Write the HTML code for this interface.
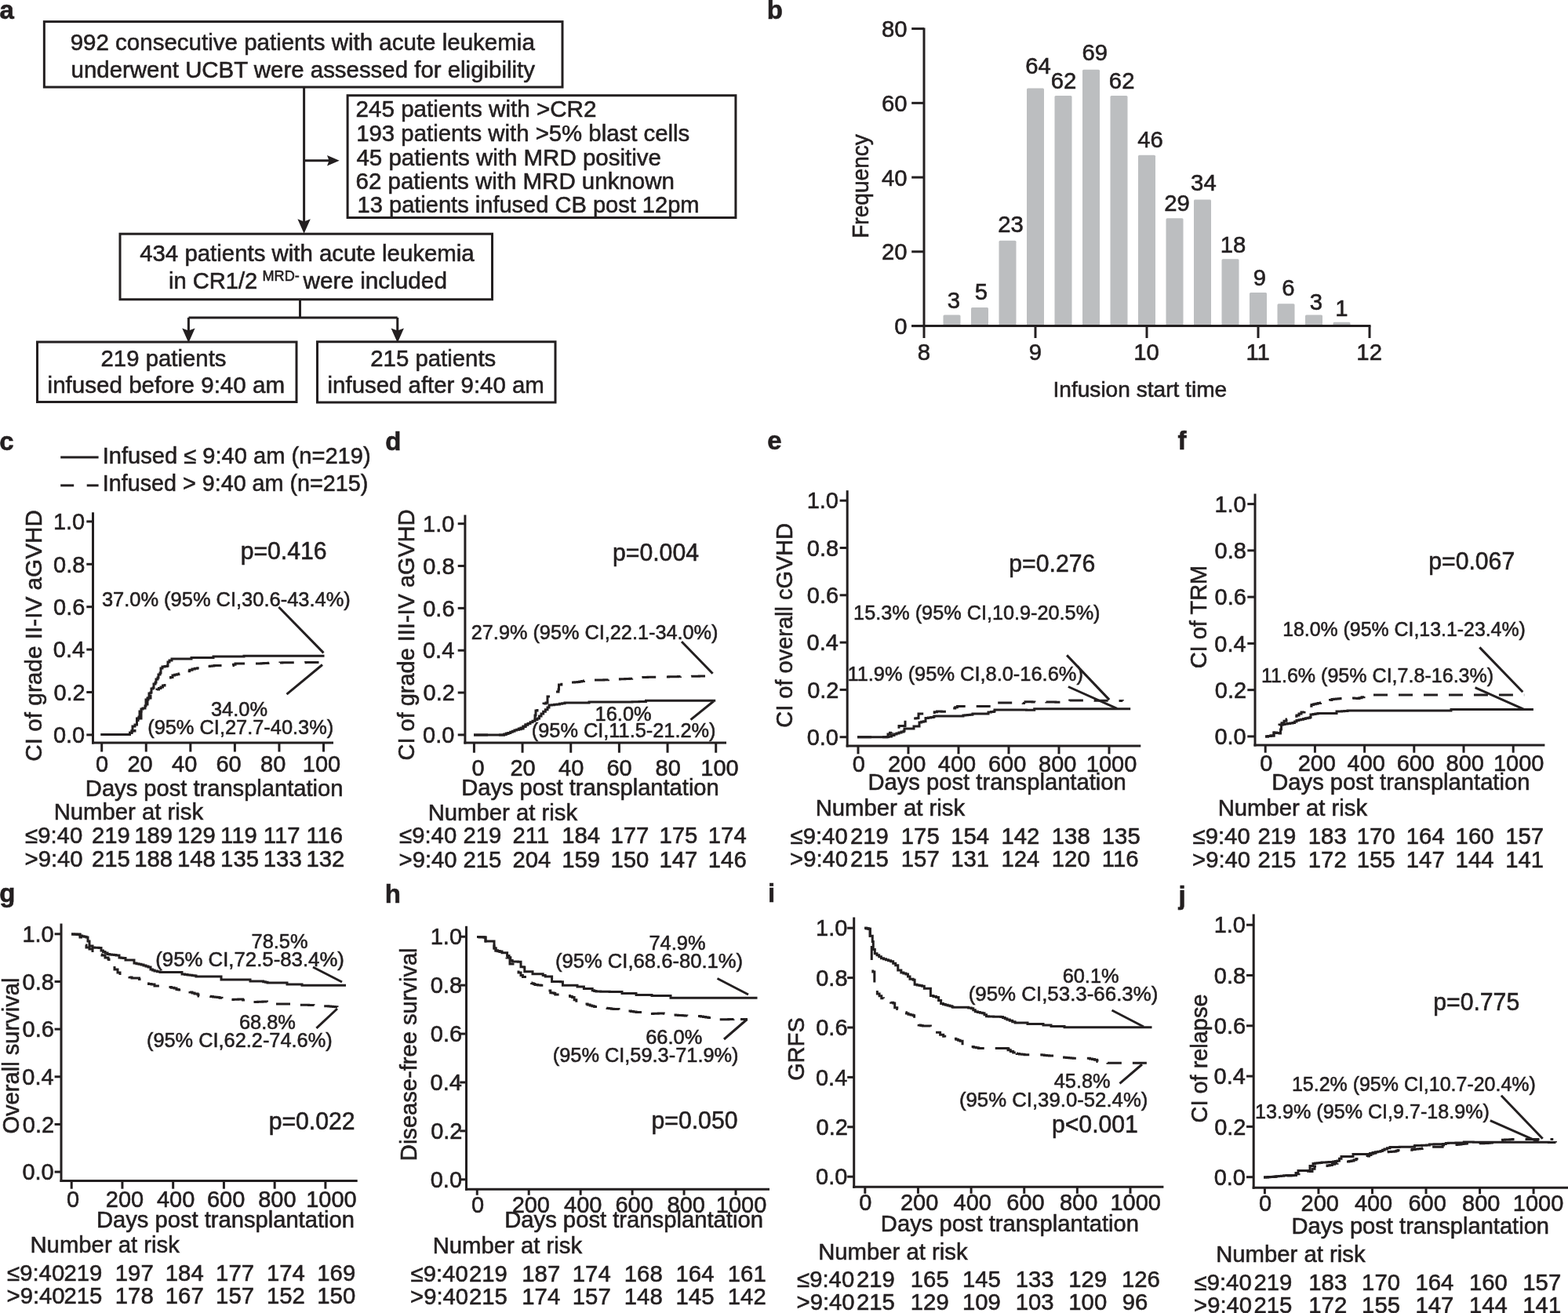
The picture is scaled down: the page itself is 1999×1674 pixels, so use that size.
<!DOCTYPE html>
<html><head><meta charset="utf-8"><style>
html,body{margin:0;padding:0;background:#fff;}
svg{display:block;}
text{stroke:#231f20;stroke-width:0.6px;font-family:"Liberation Sans",Arial,Helvetica,sans-serif;fill:#231f20;}
</style></head><body>
<svg width="1999" height="1674" viewBox="0 0 1999 1674">
<rect width="1999" height="1674" fill="#fff"/>
<g stroke="#231f20" fill="none">
<text transform="translate(-0.49,23.50) scale(0.9901,1)" font-size="33.33" font-weight="bold">a</text>
<text transform="translate(977.86,23.75) scale(0.9901,1)" font-size="33.33" font-weight="bold">b</text>
<text transform="translate(-0.82,573.60) scale(0.9901,1)" font-size="33.33" font-weight="bold">c</text>
<text transform="translate(491.18,573.60) scale(0.9901,1)" font-size="33.33" font-weight="bold">d</text>
<text transform="translate(978.18,573.30) scale(0.9901,1)" font-size="33.33" font-weight="bold">e</text>
<text transform="translate(1501.51,573.20) scale(0.9901,1)" font-size="33.33" font-weight="bold">f</text>
<text transform="translate(-0.82,1150.00) scale(0.9901,1)" font-size="33.33" font-weight="bold">g</text>
<text transform="translate(490.69,1150.50) scale(0.9901,1)" font-size="33.33" font-weight="bold">h</text>
<text transform="translate(978.99,1150.00) scale(0.9901,1)" font-size="33.33" font-weight="bold">i</text>
<text transform="translate(1502.49,1152.50) scale(0.9901,1)" font-size="33.33" font-weight="bold">j</text>
<rect x="56.35" y="27.60" width="660.65" height="83.45" fill="none" stroke-width="3"/>
<text transform="translate(89.67,63.75) scale(0.9901,1)" font-size="29.82">992 consecutive patients with acute leukemia</text>
<text transform="translate(90.59,98.75) scale(0.9901,1)" font-size="29.72">underwent UCBT were assessed for eligibility</text>
<line x1="387.60" y1="111.00" x2="387.60" y2="285.00" stroke-width="3" stroke-linecap="butt"/>
<path d="M379.40,279.20 L387.60,282.40 L395.80,279.20 L387.60,297.80 Z" fill="#231f20" stroke="none"/>
<line x1="387.60" y1="204.70" x2="420.00" y2="204.70" stroke-width="3" stroke-linecap="butt"/>
<path d="M417.00,197.90 L419.50,204.70 L417.00,211.50 L432.70,204.70 Z" fill="#231f20" stroke="none"/>
<rect x="443.10" y="121.70" width="494.80" height="155.80" fill="none" stroke-width="3"/>
<text transform="translate(453.52,148.80) scale(0.9901,1)" font-size="29.91">245 patients with &gt;CR2</text>
<text transform="translate(454.20,179.60) scale(0.9901,1)" font-size="29.65">193 patients with &gt;5% blast cells</text>
<text transform="translate(454.41,210.60) scale(0.9901,1)" font-size="29.80">45 patients with MRD positive</text>
<text transform="translate(453.53,241.40) scale(0.9901,1)" font-size="29.78">62 patients with MRD unknown</text>
<text transform="translate(455.62,271.20) scale(0.9901,1)" font-size="29.34">13 patients infused CB post 12pm</text>
<rect x="153.00" y="298.20" width="474.50" height="83.55" fill="none" stroke-width="3"/>
<text transform="translate(178.16,332.50) scale(0.9901,1)" font-size="29.71">434 patients with acute leukemia</text>
<text transform="translate(214.91,367.50) scale(0.9901,1)" font-size="29.43">in CR1/2</text>
<text transform="translate(334.55,357.80) scale(0.9901,1)" font-size="18.29">MRD-</text>
<text transform="translate(386.50,367.50) scale(0.9901,1)" font-size="30.03">were included</text>
<line x1="382.50" y1="381.75" x2="382.50" y2="405.00" stroke-width="3" stroke-linecap="butt"/>
<line x1="240.50" y1="405.00" x2="506.75" y2="405.00" stroke-width="3" stroke-linecap="butt"/>
<line x1="240.40" y1="405.00" x2="240.40" y2="422.00" stroke-width="3" stroke-linecap="butt"/>
<path d="M232.20,418.40 L240.40,421.60 L248.60,418.40 L240.40,437.00 Z" fill="#231f20" stroke="none"/>
<line x1="506.75" y1="405.00" x2="506.75" y2="422.00" stroke-width="3" stroke-linecap="butt"/>
<path d="M498.55,418.40 L506.75,421.60 L514.95,418.40 L506.75,437.00 Z" fill="#231f20" stroke="none"/>
<rect x="47.50" y="436.00" width="330.50" height="76.50" fill="none" stroke-width="3"/>
<text transform="translate(128.53,467.00) scale(0.9901,1)" font-size="29.65">219 patients</text>
<text transform="translate(60.58,501.00) scale(0.9901,1)" font-size="29.88">infused before 9:40 am</text>
<rect x="404.50" y="435.75" width="303.50" height="77.25" fill="none" stroke-width="3"/>
<text transform="translate(472.28,467.00) scale(0.9901,1)" font-size="29.65">215 patients</text>
<text transform="translate(417.59,501.00) scale(0.9901,1)" font-size="29.71">infused after 9:40 am</text>
<rect x="1202.50" y="401.39" width="22" height="14.21" rx="1.5" fill="#bcbec0" stroke="none"/>
<text transform="translate(1207.87,393.30) scale(0.9901,1)" font-size="29.59">3</text>
<rect x="1238.00" y="391.91" width="22" height="23.69" rx="1.5" fill="#bcbec0" stroke="none"/>
<text transform="translate(1242.67,381.70) scale(0.9901,1)" font-size="29.59">5</text>
<rect x="1273.50" y="306.64" width="22" height="108.96" rx="1.5" fill="#bcbec0" stroke="none"/>
<text transform="translate(1272.19,296.10) scale(0.9901,1)" font-size="29.59">23</text>
<rect x="1309.00" y="112.40" width="22" height="303.20" rx="1.5" fill="#bcbec0" stroke="none"/>
<text transform="translate(1307.25,94.10) scale(0.9901,1)" font-size="29.59">64</text>
<rect x="1344.50" y="121.88" width="22" height="293.72" rx="1.5" fill="#bcbec0" stroke="none"/>
<text transform="translate(1339.74,112.90) scale(0.9901,1)" font-size="29.59">62</text>
<rect x="1380.00" y="88.71" width="22" height="326.89" rx="1.5" fill="#bcbec0" stroke="none"/>
<text transform="translate(1379.57,77.30) scale(0.9901,1)" font-size="29.59">69</text>
<rect x="1415.50" y="121.88" width="22" height="293.72" rx="1.5" fill="#bcbec0" stroke="none"/>
<text transform="translate(1413.84,112.90) scale(0.9901,1)" font-size="29.59">62</text>
<rect x="1451.00" y="197.68" width="22" height="217.92" rx="1.5" fill="#bcbec0" stroke="none"/>
<text transform="translate(1450.33,187.70) scale(0.9901,1)" font-size="29.59">46</text>
<rect x="1486.50" y="278.21" width="22" height="137.39" rx="1.5" fill="#bcbec0" stroke="none"/>
<text transform="translate(1484.27,269.20) scale(0.9901,1)" font-size="29.59">29</text>
<rect x="1522.00" y="254.53" width="22" height="161.07" rx="1.5" fill="#bcbec0" stroke="none"/>
<text transform="translate(1518.09,242.70) scale(0.9901,1)" font-size="29.59">34</text>
<rect x="1557.50" y="330.33" width="22" height="85.27" rx="1.5" fill="#bcbec0" stroke="none"/>
<text transform="translate(1555.73,321.70) scale(0.9901,1)" font-size="29.59">18</text>
<rect x="1593.00" y="372.96" width="22" height="42.64" rx="1.5" fill="#bcbec0" stroke="none"/>
<text transform="translate(1597.87,363.70) scale(0.9901,1)" font-size="29.59">9</text>
<rect x="1628.50" y="387.18" width="22" height="28.43" rx="1.5" fill="#bcbec0" stroke="none"/>
<text transform="translate(1634.32,376.70) scale(0.9901,1)" font-size="29.59">6</text>
<rect x="1664.00" y="401.39" width="22" height="14.21" rx="1.5" fill="#bcbec0" stroke="none"/>
<text transform="translate(1669.87,394.70) scale(0.9901,1)" font-size="29.59">3</text>
<rect x="1699.50" y="410.86" width="22" height="4.74" rx="1.5" fill="#bcbec0" stroke="none"/>
<text transform="translate(1702.13,403.30) scale(0.9901,1)" font-size="29.59">1</text>
<line x1="1178.00" y1="35.50" x2="1178.00" y2="417.10" stroke-width="3" stroke-linecap="butt"/>
<line x1="1162.20" y1="415.60" x2="1178.00" y2="415.60" stroke-width="3" stroke-linecap="butt"/>
<text transform="translate(1140.26,426.10) scale(0.9901,1)" font-size="29.59">0</text>
<line x1="1162.20" y1="320.85" x2="1178.00" y2="320.85" stroke-width="3" stroke-linecap="butt"/>
<text transform="translate(1124.00,331.35) scale(0.9901,1)" font-size="29.59">20</text>
<line x1="1162.20" y1="226.10" x2="1178.00" y2="226.10" stroke-width="3" stroke-linecap="butt"/>
<text transform="translate(1124.00,236.60) scale(0.9901,1)" font-size="29.59">40</text>
<line x1="1162.20" y1="131.35" x2="1178.00" y2="131.35" stroke-width="3" stroke-linecap="butt"/>
<text transform="translate(1124.00,141.85) scale(0.9901,1)" font-size="29.59">60</text>
<line x1="1162.20" y1="36.60" x2="1178.00" y2="36.60" stroke-width="3" stroke-linecap="butt"/>
<text transform="translate(1124.00,47.10) scale(0.9901,1)" font-size="29.59">80</text>
<line x1="1162.20" y1="415.60" x2="1747.50" y2="415.60" stroke-width="3" stroke-linecap="butt"/>
<line x1="1178.00" y1="415.60" x2="1178.00" y2="431.00" stroke-width="3" stroke-linecap="butt"/>
<text transform="translate(1169.80,459.00) scale(0.9901,1)" font-size="29.59">8</text>
<line x1="1320.00" y1="415.60" x2="1320.00" y2="431.00" stroke-width="3" stroke-linecap="butt"/>
<text transform="translate(1311.87,459.00) scale(0.9901,1)" font-size="29.59">9</text>
<line x1="1462.00" y1="415.60" x2="1462.00" y2="431.00" stroke-width="3" stroke-linecap="butt"/>
<text transform="translate(1445.15,459.00) scale(0.9901,1)" font-size="29.59">10</text>
<line x1="1604.00" y1="415.60" x2="1604.00" y2="431.00" stroke-width="3" stroke-linecap="butt"/>
<text transform="translate(1588.40,459.00) scale(0.9901,1)" font-size="29.59">11</text>
<line x1="1746.00" y1="415.60" x2="1746.00" y2="431.00" stroke-width="3" stroke-linecap="butt"/>
<text transform="translate(1729.37,459.00) scale(0.9901,1)" font-size="29.59">12</text>
<text transform="translate(1342.47,506.00) scale(0.9901,1)" font-size="28.39">Infusion start time</text>
<text transform="translate(1106.90,303.85) rotate(-90) scale(0.9249,1)" x="0" y="0" font-size="30.40">Frequency</text>
<line x1="118.50" y1="653.30" x2="118.50" y2="948.50" stroke-width="3" stroke-linecap="butt"/>
<line x1="117.00" y1="947.00" x2="425.00" y2="947.00" stroke-width="3" stroke-linecap="butt"/>
<line x1="110.30" y1="936.90" x2="118.50" y2="936.90" stroke-width="3" stroke-linecap="butt"/>
<text transform="translate(67.95,947.10) scale(0.9901,1)" font-size="29.29">0.0</text>
<line x1="110.30" y1="882.50" x2="118.50" y2="882.50" stroke-width="3" stroke-linecap="butt"/>
<text transform="translate(68.39,892.70) scale(0.9901,1)" font-size="29.29">0.2</text>
<line x1="110.30" y1="828.10" x2="118.50" y2="828.10" stroke-width="3" stroke-linecap="butt"/>
<text transform="translate(67.81,838.30) scale(0.9901,1)" font-size="29.29">0.4</text>
<line x1="110.30" y1="773.70" x2="118.50" y2="773.70" stroke-width="3" stroke-linecap="butt"/>
<text transform="translate(68.10,783.90) scale(0.9901,1)" font-size="29.29">0.6</text>
<line x1="110.30" y1="719.30" x2="118.50" y2="719.30" stroke-width="3" stroke-linecap="butt"/>
<text transform="translate(68.10,729.50) scale(0.9901,1)" font-size="29.29">0.8</text>
<line x1="110.30" y1="664.90" x2="118.50" y2="664.90" stroke-width="3" stroke-linecap="butt"/>
<text transform="translate(67.95,675.10) scale(0.9901,1)" font-size="29.29">1.0</text>
<line x1="129.70" y1="947.00" x2="129.70" y2="958.50" stroke-width="3" stroke-linecap="butt"/>
<text transform="translate(121.88,984.00) scale(0.9901,1)" font-size="29.29">0</text>
<line x1="186.26" y1="947.00" x2="186.26" y2="958.50" stroke-width="3" stroke-linecap="butt"/>
<text transform="translate(162.49,984.00) scale(0.9901,1)" font-size="29.29">20</text>
<line x1="242.82" y1="947.00" x2="242.82" y2="958.50" stroke-width="3" stroke-linecap="butt"/>
<text transform="translate(219.12,984.00) scale(0.9901,1)" font-size="29.29">40</text>
<line x1="299.38" y1="947.00" x2="299.38" y2="958.50" stroke-width="3" stroke-linecap="butt"/>
<text transform="translate(275.39,984.00) scale(0.9901,1)" font-size="29.29">60</text>
<line x1="355.94" y1="947.00" x2="355.94" y2="958.50" stroke-width="3" stroke-linecap="butt"/>
<text transform="translate(332.06,984.00) scale(0.9901,1)" font-size="29.29">80</text>
<line x1="412.50" y1="947.00" x2="412.50" y2="958.50" stroke-width="3" stroke-linecap="butt"/>
<text transform="translate(385.78,984.00) scale(0.9901,1)" font-size="29.29">100</text>
<line x1="592.90" y1="656.50" x2="592.90" y2="948.50" stroke-width="3" stroke-linecap="butt"/>
<line x1="591.40" y1="947.00" x2="926.00" y2="947.00" stroke-width="3" stroke-linecap="butt"/>
<line x1="583.70" y1="936.90" x2="592.90" y2="936.90" stroke-width="3" stroke-linecap="butt"/>
<text transform="translate(539.11,947.10) scale(0.9901,1)" font-size="29.29">0.0</text>
<line x1="583.70" y1="883.06" x2="592.90" y2="883.06" stroke-width="3" stroke-linecap="butt"/>
<text transform="translate(539.54,893.26) scale(0.9901,1)" font-size="29.29">0.2</text>
<line x1="583.70" y1="829.22" x2="592.90" y2="829.22" stroke-width="3" stroke-linecap="butt"/>
<text transform="translate(538.96,839.42) scale(0.9901,1)" font-size="29.29">0.4</text>
<line x1="583.70" y1="775.38" x2="592.90" y2="775.38" stroke-width="3" stroke-linecap="butt"/>
<text transform="translate(539.25,785.58) scale(0.9901,1)" font-size="29.29">0.6</text>
<line x1="583.70" y1="721.54" x2="592.90" y2="721.54" stroke-width="3" stroke-linecap="butt"/>
<text transform="translate(539.25,731.74) scale(0.9901,1)" font-size="29.29">0.8</text>
<line x1="583.70" y1="667.70" x2="592.90" y2="667.70" stroke-width="3" stroke-linecap="butt"/>
<text transform="translate(539.11,677.90) scale(0.9901,1)" font-size="29.29">1.0</text>
<line x1="604.40" y1="947.00" x2="604.40" y2="959.70" stroke-width="3" stroke-linecap="butt"/>
<text transform="translate(601.38,989.20) scale(0.9901,1)" font-size="29.29">0</text>
<line x1="666.06" y1="947.00" x2="666.06" y2="959.70" stroke-width="3" stroke-linecap="butt"/>
<text transform="translate(650.49,989.20) scale(0.9901,1)" font-size="29.29">20</text>
<line x1="727.72" y1="947.00" x2="727.72" y2="959.70" stroke-width="3" stroke-linecap="butt"/>
<text transform="translate(712.12,989.20) scale(0.9901,1)" font-size="29.29">40</text>
<line x1="789.38" y1="947.00" x2="789.38" y2="959.70" stroke-width="3" stroke-linecap="butt"/>
<text transform="translate(773.39,989.20) scale(0.9901,1)" font-size="29.29">60</text>
<line x1="851.04" y1="947.00" x2="851.04" y2="959.70" stroke-width="3" stroke-linecap="butt"/>
<text transform="translate(835.56,989.20) scale(0.9901,1)" font-size="29.29">80</text>
<line x1="912.70" y1="947.00" x2="912.70" y2="959.70" stroke-width="3" stroke-linecap="butt"/>
<text transform="translate(893.28,989.20) scale(0.9901,1)" font-size="29.29">100</text>
<line x1="1080.20" y1="625.30" x2="1080.20" y2="952.40" stroke-width="3" stroke-linecap="butt"/>
<line x1="1078.70" y1="950.90" x2="1454.30" y2="950.90" stroke-width="3" stroke-linecap="butt"/>
<line x1="1070.60" y1="939.70" x2="1080.20" y2="939.70" stroke-width="3" stroke-linecap="butt"/>
<text transform="translate(1028.70,949.90) scale(0.9901,1)" font-size="29.29">0.0</text>
<line x1="1070.60" y1="879.40" x2="1080.20" y2="879.40" stroke-width="3" stroke-linecap="butt"/>
<text transform="translate(1029.14,889.60) scale(0.9901,1)" font-size="29.29">0.2</text>
<line x1="1070.60" y1="819.10" x2="1080.20" y2="819.10" stroke-width="3" stroke-linecap="butt"/>
<text transform="translate(1028.56,829.30) scale(0.9901,1)" font-size="29.29">0.4</text>
<line x1="1070.60" y1="758.80" x2="1080.20" y2="758.80" stroke-width="3" stroke-linecap="butt"/>
<text transform="translate(1028.85,769.00) scale(0.9901,1)" font-size="29.29">0.6</text>
<line x1="1070.60" y1="698.50" x2="1080.20" y2="698.50" stroke-width="3" stroke-linecap="butt"/>
<text transform="translate(1028.85,708.70) scale(0.9901,1)" font-size="29.29">0.8</text>
<line x1="1070.60" y1="638.20" x2="1080.20" y2="638.20" stroke-width="3" stroke-linecap="butt"/>
<text transform="translate(1028.70,648.40) scale(0.9901,1)" font-size="29.29">1.0</text>
<line x1="1094.00" y1="950.90" x2="1094.00" y2="961.30" stroke-width="3" stroke-linecap="butt"/>
<text transform="translate(1086.68,984.20) scale(0.9901,1)" font-size="29.29">0</text>
<line x1="1158.00" y1="950.90" x2="1158.00" y2="961.30" stroke-width="3" stroke-linecap="butt"/>
<text transform="translate(1131.94,984.20) scale(0.9901,1)" font-size="29.29">200</text>
<line x1="1222.00" y1="950.90" x2="1222.00" y2="961.30" stroke-width="3" stroke-linecap="butt"/>
<text transform="translate(1195.78,984.20) scale(0.9901,1)" font-size="29.29">400</text>
<line x1="1286.00" y1="950.90" x2="1286.00" y2="961.30" stroke-width="3" stroke-linecap="butt"/>
<text transform="translate(1259.94,984.20) scale(0.9901,1)" font-size="29.29">600</text>
<line x1="1350.00" y1="950.90" x2="1350.00" y2="961.30" stroke-width="3" stroke-linecap="butt"/>
<text transform="translate(1324.01,984.20) scale(0.9901,1)" font-size="29.29">800</text>
<line x1="1414.00" y1="950.90" x2="1414.00" y2="961.30" stroke-width="3" stroke-linecap="butt"/>
<text transform="translate(1384.86,984.20) scale(0.9901,1)" font-size="29.29">1000</text>
<line x1="1600.00" y1="629.60" x2="1600.00" y2="951.50" stroke-width="3" stroke-linecap="butt"/>
<line x1="1598.50" y1="950.00" x2="1969.40" y2="950.00" stroke-width="3" stroke-linecap="butt"/>
<line x1="1590.30" y1="938.90" x2="1600.00" y2="938.90" stroke-width="3" stroke-linecap="butt"/>
<text transform="translate(1548.40,949.10) scale(0.9901,1)" font-size="29.29">0.0</text>
<line x1="1590.30" y1="879.64" x2="1600.00" y2="879.64" stroke-width="3" stroke-linecap="butt"/>
<text transform="translate(1548.84,889.84) scale(0.9901,1)" font-size="29.29">0.2</text>
<line x1="1590.30" y1="820.38" x2="1600.00" y2="820.38" stroke-width="3" stroke-linecap="butt"/>
<text transform="translate(1548.26,830.58) scale(0.9901,1)" font-size="29.29">0.4</text>
<line x1="1590.30" y1="761.12" x2="1600.00" y2="761.12" stroke-width="3" stroke-linecap="butt"/>
<text transform="translate(1548.55,771.32) scale(0.9901,1)" font-size="29.29">0.6</text>
<line x1="1590.30" y1="701.86" x2="1600.00" y2="701.86" stroke-width="3" stroke-linecap="butt"/>
<text transform="translate(1548.55,712.06) scale(0.9901,1)" font-size="29.29">0.8</text>
<line x1="1590.30" y1="642.60" x2="1600.00" y2="642.60" stroke-width="3" stroke-linecap="butt"/>
<text transform="translate(1548.40,652.80) scale(0.9901,1)" font-size="29.29">1.0</text>
<line x1="1613.20" y1="950.00" x2="1613.20" y2="959.70" stroke-width="3" stroke-linecap="butt"/>
<text transform="translate(1606.18,983.40) scale(0.9901,1)" font-size="29.29">0</text>
<line x1="1676.40" y1="950.00" x2="1676.40" y2="959.70" stroke-width="3" stroke-linecap="butt"/>
<text transform="translate(1654.64,983.40) scale(0.9901,1)" font-size="29.29">200</text>
<line x1="1739.60" y1="950.00" x2="1739.60" y2="959.70" stroke-width="3" stroke-linecap="butt"/>
<text transform="translate(1717.58,983.40) scale(0.9901,1)" font-size="29.29">400</text>
<line x1="1802.80" y1="950.00" x2="1802.80" y2="959.70" stroke-width="3" stroke-linecap="butt"/>
<text transform="translate(1780.64,983.40) scale(0.9901,1)" font-size="29.29">600</text>
<line x1="1866.00" y1="950.00" x2="1866.00" y2="959.70" stroke-width="3" stroke-linecap="butt"/>
<text transform="translate(1843.61,983.40) scale(0.9901,1)" font-size="29.29">800</text>
<line x1="1929.20" y1="950.00" x2="1929.20" y2="959.70" stroke-width="3" stroke-linecap="butt"/>
<text transform="translate(1903.96,983.40) scale(0.9901,1)" font-size="29.29">1000</text>
<line x1="78.00" y1="1177.60" x2="78.00" y2="1507.10" stroke-width="3" stroke-linecap="butt"/>
<line x1="76.50" y1="1505.60" x2="455.70" y2="1505.60" stroke-width="3" stroke-linecap="butt"/>
<line x1="69.60" y1="1494.10" x2="78.00" y2="1494.10" stroke-width="3" stroke-linecap="butt"/>
<text transform="translate(28.41,1504.30) scale(0.9901,1)" font-size="29.29">0.0</text>
<line x1="69.60" y1="1433.44" x2="78.00" y2="1433.44" stroke-width="3" stroke-linecap="butt"/>
<text transform="translate(28.84,1443.64) scale(0.9901,1)" font-size="29.29">0.2</text>
<line x1="69.60" y1="1372.78" x2="78.00" y2="1372.78" stroke-width="3" stroke-linecap="butt"/>
<text transform="translate(28.26,1382.98) scale(0.9901,1)" font-size="29.29">0.4</text>
<line x1="69.60" y1="1312.12" x2="78.00" y2="1312.12" stroke-width="3" stroke-linecap="butt"/>
<text transform="translate(28.55,1322.32) scale(0.9901,1)" font-size="29.29">0.6</text>
<line x1="69.60" y1="1251.46" x2="78.00" y2="1251.46" stroke-width="3" stroke-linecap="butt"/>
<text transform="translate(28.55,1261.66) scale(0.9901,1)" font-size="29.29">0.8</text>
<line x1="69.60" y1="1190.80" x2="78.00" y2="1190.80" stroke-width="3" stroke-linecap="butt"/>
<text transform="translate(28.41,1201.00) scale(0.9901,1)" font-size="29.29">1.0</text>
<line x1="91.20" y1="1505.60" x2="91.20" y2="1515.70" stroke-width="3" stroke-linecap="butt"/>
<text transform="translate(84.88,1539.20) scale(0.9901,1)" font-size="29.29">0</text>
<line x1="155.94" y1="1505.60" x2="155.94" y2="1515.70" stroke-width="3" stroke-linecap="butt"/>
<text transform="translate(134.84,1539.20) scale(0.9901,1)" font-size="29.29">200</text>
<line x1="220.68" y1="1505.60" x2="220.68" y2="1515.70" stroke-width="3" stroke-linecap="butt"/>
<text transform="translate(199.98,1539.20) scale(0.9901,1)" font-size="29.29">400</text>
<line x1="285.42" y1="1505.60" x2="285.42" y2="1515.70" stroke-width="3" stroke-linecap="butt"/>
<text transform="translate(263.94,1539.20) scale(0.9901,1)" font-size="29.29">600</text>
<line x1="350.16" y1="1505.60" x2="350.16" y2="1515.70" stroke-width="3" stroke-linecap="butt"/>
<text transform="translate(329.21,1539.20) scale(0.9901,1)" font-size="29.29">800</text>
<line x1="414.90" y1="1505.60" x2="414.90" y2="1515.70" stroke-width="3" stroke-linecap="butt"/>
<text transform="translate(390.16,1539.20) scale(0.9901,1)" font-size="29.29">1000</text>
<line x1="594.50" y1="1180.75" x2="594.50" y2="1517.75" stroke-width="3" stroke-linecap="butt"/>
<line x1="593.00" y1="1516.25" x2="981.00" y2="1516.25" stroke-width="3" stroke-linecap="butt"/>
<line x1="586.25" y1="1503.80" x2="594.50" y2="1503.80" stroke-width="3" stroke-linecap="butt"/>
<text transform="translate(548.71,1514.00) scale(0.9901,1)" font-size="29.29">0.0</text>
<line x1="586.25" y1="1441.88" x2="594.50" y2="1441.88" stroke-width="3" stroke-linecap="butt"/>
<text transform="translate(549.14,1452.08) scale(0.9901,1)" font-size="29.29">0.2</text>
<line x1="586.25" y1="1379.96" x2="594.50" y2="1379.96" stroke-width="3" stroke-linecap="butt"/>
<text transform="translate(548.56,1390.16) scale(0.9901,1)" font-size="29.29">0.4</text>
<line x1="586.25" y1="1318.04" x2="594.50" y2="1318.04" stroke-width="3" stroke-linecap="butt"/>
<text transform="translate(548.85,1328.24) scale(0.9901,1)" font-size="29.29">0.6</text>
<line x1="586.25" y1="1256.12" x2="594.50" y2="1256.12" stroke-width="3" stroke-linecap="butt"/>
<text transform="translate(548.85,1266.32) scale(0.9901,1)" font-size="29.29">0.8</text>
<line x1="586.25" y1="1194.20" x2="594.50" y2="1194.20" stroke-width="3" stroke-linecap="butt"/>
<text transform="translate(548.71,1204.40) scale(0.9901,1)" font-size="29.29">1.0</text>
<line x1="608.25" y1="1516.25" x2="608.25" y2="1523.75" stroke-width="3" stroke-linecap="butt"/>
<text transform="translate(601.08,1545.80) scale(0.9901,1)" font-size="29.29">0</text>
<line x1="674.20" y1="1516.25" x2="674.20" y2="1523.75" stroke-width="3" stroke-linecap="butt"/>
<text transform="translate(652.64,1545.80) scale(0.9901,1)" font-size="29.29">200</text>
<line x1="740.15" y1="1516.25" x2="740.15" y2="1523.75" stroke-width="3" stroke-linecap="butt"/>
<text transform="translate(719.08,1545.80) scale(0.9901,1)" font-size="29.29">400</text>
<line x1="806.10" y1="1516.25" x2="806.10" y2="1523.75" stroke-width="3" stroke-linecap="butt"/>
<text transform="translate(784.44,1545.80) scale(0.9901,1)" font-size="29.29">600</text>
<line x1="872.05" y1="1516.25" x2="872.05" y2="1523.75" stroke-width="3" stroke-linecap="butt"/>
<text transform="translate(850.51,1545.80) scale(0.9901,1)" font-size="29.29">800</text>
<line x1="938.00" y1="1516.25" x2="938.00" y2="1523.75" stroke-width="3" stroke-linecap="butt"/>
<text transform="translate(912.86,1545.80) scale(0.9901,1)" font-size="29.29">1000</text>
<line x1="1088.70" y1="1169.40" x2="1088.70" y2="1514.70" stroke-width="3" stroke-linecap="butt"/>
<line x1="1087.20" y1="1513.20" x2="1483.40" y2="1513.20" stroke-width="3" stroke-linecap="butt"/>
<line x1="1080.20" y1="1500.20" x2="1088.70" y2="1500.20" stroke-width="3" stroke-linecap="butt"/>
<text transform="translate(1040.11,1510.40) scale(0.9901,1)" font-size="29.29">0.0</text>
<line x1="1080.20" y1="1436.80" x2="1088.70" y2="1436.80" stroke-width="3" stroke-linecap="butt"/>
<text transform="translate(1040.54,1447.00) scale(0.9901,1)" font-size="29.29">0.2</text>
<line x1="1080.20" y1="1373.40" x2="1088.70" y2="1373.40" stroke-width="3" stroke-linecap="butt"/>
<text transform="translate(1039.96,1383.60) scale(0.9901,1)" font-size="29.29">0.4</text>
<line x1="1080.20" y1="1310.00" x2="1088.70" y2="1310.00" stroke-width="3" stroke-linecap="butt"/>
<text transform="translate(1040.25,1320.20) scale(0.9901,1)" font-size="29.29">0.6</text>
<line x1="1080.20" y1="1246.60" x2="1088.70" y2="1246.60" stroke-width="3" stroke-linecap="butt"/>
<text transform="translate(1040.25,1256.80) scale(0.9901,1)" font-size="29.29">0.8</text>
<line x1="1080.20" y1="1183.20" x2="1088.70" y2="1183.20" stroke-width="3" stroke-linecap="butt"/>
<text transform="translate(1040.11,1193.40) scale(0.9901,1)" font-size="29.29">1.0</text>
<line x1="1102.80" y1="1513.20" x2="1102.80" y2="1521.80" stroke-width="3" stroke-linecap="butt"/>
<text transform="translate(1095.28,1543.40) scale(0.9901,1)" font-size="29.29">0</text>
<line x1="1170.44" y1="1513.20" x2="1170.44" y2="1521.80" stroke-width="3" stroke-linecap="butt"/>
<text transform="translate(1147.94,1543.40) scale(0.9901,1)" font-size="29.29">200</text>
<line x1="1238.08" y1="1513.20" x2="1238.08" y2="1521.80" stroke-width="3" stroke-linecap="butt"/>
<text transform="translate(1215.58,1543.40) scale(0.9901,1)" font-size="29.29">400</text>
<line x1="1305.72" y1="1513.20" x2="1305.72" y2="1521.80" stroke-width="3" stroke-linecap="butt"/>
<text transform="translate(1283.34,1543.40) scale(0.9901,1)" font-size="29.29">600</text>
<line x1="1373.36" y1="1513.20" x2="1373.36" y2="1521.80" stroke-width="3" stroke-linecap="butt"/>
<text transform="translate(1350.91,1543.40) scale(0.9901,1)" font-size="29.29">800</text>
<line x1="1441.00" y1="1513.20" x2="1441.00" y2="1521.80" stroke-width="3" stroke-linecap="butt"/>
<text transform="translate(1415.46,1543.40) scale(0.9901,1)" font-size="29.29">1000</text>
<line x1="1598.20" y1="1165.40" x2="1598.20" y2="1515.80" stroke-width="3" stroke-linecap="butt"/>
<line x1="1596.70" y1="1514.30" x2="1999.00" y2="1514.30" stroke-width="3" stroke-linecap="butt"/>
<line x1="1589.00" y1="1500.70" x2="1598.20" y2="1500.70" stroke-width="3" stroke-linecap="butt"/>
<text transform="translate(1547.70,1510.90) scale(0.9901,1)" font-size="29.29">0.0</text>
<line x1="1589.00" y1="1436.40" x2="1598.20" y2="1436.40" stroke-width="3" stroke-linecap="butt"/>
<text transform="translate(1548.14,1446.60) scale(0.9901,1)" font-size="29.29">0.2</text>
<line x1="1589.00" y1="1372.10" x2="1598.20" y2="1372.10" stroke-width="3" stroke-linecap="butt"/>
<text transform="translate(1547.56,1382.30) scale(0.9901,1)" font-size="29.29">0.4</text>
<line x1="1589.00" y1="1307.80" x2="1598.20" y2="1307.80" stroke-width="3" stroke-linecap="butt"/>
<text transform="translate(1547.85,1318.00) scale(0.9901,1)" font-size="29.29">0.6</text>
<line x1="1589.00" y1="1243.50" x2="1598.20" y2="1243.50" stroke-width="3" stroke-linecap="butt"/>
<text transform="translate(1547.85,1253.70) scale(0.9901,1)" font-size="29.29">0.8</text>
<line x1="1589.00" y1="1179.20" x2="1598.20" y2="1179.20" stroke-width="3" stroke-linecap="butt"/>
<text transform="translate(1547.70,1189.40) scale(0.9901,1)" font-size="29.29">1.0</text>
<line x1="1612.40" y1="1514.30" x2="1612.40" y2="1522.30" stroke-width="3" stroke-linecap="butt"/>
<text transform="translate(1604.98,1544.40) scale(0.9901,1)" font-size="29.29">0</text>
<line x1="1680.94" y1="1514.30" x2="1680.94" y2="1522.30" stroke-width="3" stroke-linecap="butt"/>
<text transform="translate(1658.54,1544.40) scale(0.9901,1)" font-size="29.29">200</text>
<line x1="1749.48" y1="1514.30" x2="1749.48" y2="1522.30" stroke-width="3" stroke-linecap="butt"/>
<text transform="translate(1726.88,1544.40) scale(0.9901,1)" font-size="29.29">400</text>
<line x1="1818.02" y1="1514.30" x2="1818.02" y2="1522.30" stroke-width="3" stroke-linecap="butt"/>
<text transform="translate(1795.44,1544.40) scale(0.9901,1)" font-size="29.29">600</text>
<line x1="1886.56" y1="1514.30" x2="1886.56" y2="1522.30" stroke-width="3" stroke-linecap="butt"/>
<text transform="translate(1864.11,1544.40) scale(0.9901,1)" font-size="29.29">800</text>
<line x1="1955.10" y1="1514.30" x2="1955.10" y2="1522.30" stroke-width="3" stroke-linecap="butt"/>
<text transform="translate(1928.86,1544.40) scale(0.9901,1)" font-size="29.29">1000</text>
<text transform="translate(52.50,970.79) rotate(-90) scale(0.9793,1)" x="0" y="0" font-size="30.40">CI of grade II-IV aGVHD</text>
<text transform="translate(528.00,969.45) rotate(-90) scale(0.9525,1)" x="0" y="0" font-size="30.40">CI of grade III-IV aGVHD</text>
<text transform="translate(1009.90,927.65) rotate(-90) scale(0.9534,1)" x="0" y="0" font-size="30.40">CI of overall cGVHD</text>
<text transform="translate(1538.20,852.35) rotate(-90) scale(0.9544,1)" x="0" y="0" font-size="30.40">CI of TRM</text>
<text transform="translate(23.90,1445.61) rotate(-90) scale(0.9582,1)" x="0" y="0" font-size="30.40">Overall survival</text>
<text transform="translate(530.60,1480.13) rotate(-90) scale(0.9578,1)" x="0" y="0" font-size="30.40">Disease-free survival</text>
<text transform="translate(1025.10,1377.65) rotate(-90) scale(0.9525,1)" x="0" y="0" font-size="30.40">GRFS</text>
<text transform="translate(1538.70,1431.45) rotate(-90) scale(0.9517,1)" x="0" y="0" font-size="30.40">CI of relapse</text>
<text transform="translate(108.87,1015.00) scale(0.9901,1)" font-size="29.43">Days post transplantation</text>
<text transform="translate(588.17,1014.00) scale(0.9901,1)" font-size="29.42">Days post transplantation</text>
<text transform="translate(1106.46,1006.80) scale(0.9901,1)" font-size="29.48">Days post transplantation</text>
<text transform="translate(1621.27,1007.20) scale(0.9901,1)" font-size="29.47">Days post transplantation</text>
<text transform="translate(122.97,1564.90) scale(0.9901,1)" font-size="29.46">Days post transplantation</text>
<text transform="translate(643.16,1565.00) scale(0.9901,1)" font-size="29.53">Days post transplantation</text>
<text transform="translate(1122.87,1569.90) scale(0.9901,1)" font-size="29.47">Days post transplantation</text>
<text transform="translate(1646.47,1573.40) scale(0.9901,1)" font-size="29.42">Days post transplantation</text>
<text transform="translate(68.66,1045.00) scale(0.9901,1)" font-size="29.59">Number at risk</text>
<text transform="translate(32.12,1074.50) scale(0.9901,1)" font-size="29.59">≤9:40</text>
<text transform="translate(31.54,1105.00) scale(0.9901,1)" font-size="29.59">&gt;9:40</text>
<text transform="translate(117.03,1074.50) scale(0.9901,1)" font-size="29.59">219</text>
<text transform="translate(117.03,1105.00) scale(0.9901,1)" font-size="29.59">215</text>
<text transform="translate(171.20,1074.50) scale(0.9901,1)" font-size="29.59">189</text>
<text transform="translate(171.20,1105.00) scale(0.9901,1)" font-size="29.59">188</text>
<text transform="translate(225.90,1074.50) scale(0.9901,1)" font-size="29.59">129</text>
<text transform="translate(225.90,1105.00) scale(0.9901,1)" font-size="29.59">148</text>
<text transform="translate(281.10,1074.50) scale(0.9901,1)" font-size="29.59">119</text>
<text transform="translate(281.10,1105.00) scale(0.9901,1)" font-size="29.59">135</text>
<text transform="translate(335.80,1074.50) scale(0.9901,1)" font-size="29.59">117</text>
<text transform="translate(335.80,1105.00) scale(0.9901,1)" font-size="29.59">133</text>
<text transform="translate(390.40,1074.50) scale(0.9901,1)" font-size="29.59">116</text>
<text transform="translate(390.40,1105.00) scale(0.9901,1)" font-size="29.59">132</text>
<text transform="translate(545.66,1046.00) scale(0.9901,1)" font-size="29.59">Number at risk</text>
<text transform="translate(509.12,1075.00) scale(0.9901,1)" font-size="29.59">≤9:40</text>
<text transform="translate(508.54,1105.50) scale(0.9901,1)" font-size="29.59">&gt;9:40</text>
<text transform="translate(590.53,1075.00) scale(0.9901,1)" font-size="29.59">219</text>
<text transform="translate(590.53,1105.50) scale(0.9901,1)" font-size="29.59">215</text>
<text transform="translate(653.53,1075.00) scale(0.9901,1)" font-size="29.59">211</text>
<text transform="translate(653.53,1105.50) scale(0.9901,1)" font-size="29.59">204</text>
<text transform="translate(716.20,1075.00) scale(0.9901,1)" font-size="29.59">184</text>
<text transform="translate(716.20,1105.50) scale(0.9901,1)" font-size="29.59">159</text>
<text transform="translate(778.40,1075.00) scale(0.9901,1)" font-size="29.59">177</text>
<text transform="translate(778.40,1105.50) scale(0.9901,1)" font-size="29.59">150</text>
<text transform="translate(840.40,1075.00) scale(0.9901,1)" font-size="29.59">175</text>
<text transform="translate(840.40,1105.50) scale(0.9901,1)" font-size="29.59">147</text>
<text transform="translate(902.80,1075.00) scale(0.9901,1)" font-size="29.59">174</text>
<text transform="translate(902.80,1105.50) scale(0.9901,1)" font-size="29.59">146</text>
<text transform="translate(1039.66,1040.00) scale(0.9901,1)" font-size="29.59">Number at risk</text>
<text transform="translate(1007.62,1076.00) scale(0.9901,1)" font-size="29.59">≤9:40</text>
<text transform="translate(1007.03,1105.30) scale(0.9901,1)" font-size="29.59">&gt;9:40</text>
<text transform="translate(1084.04,1076.00) scale(0.9901,1)" font-size="29.59">219</text>
<text transform="translate(1084.04,1105.30) scale(0.9901,1)" font-size="29.59">215</text>
<text transform="translate(1148.80,1076.00) scale(0.9901,1)" font-size="29.59">175</text>
<text transform="translate(1148.80,1105.30) scale(0.9901,1)" font-size="29.59">157</text>
<text transform="translate(1212.20,1076.00) scale(0.9901,1)" font-size="29.59">154</text>
<text transform="translate(1212.20,1105.30) scale(0.9901,1)" font-size="29.59">131</text>
<text transform="translate(1276.50,1076.00) scale(0.9901,1)" font-size="29.59">142</text>
<text transform="translate(1276.50,1105.30) scale(0.9901,1)" font-size="29.59">124</text>
<text transform="translate(1340.80,1076.00) scale(0.9901,1)" font-size="29.59">138</text>
<text transform="translate(1340.80,1105.30) scale(0.9901,1)" font-size="29.59">120</text>
<text transform="translate(1404.80,1076.00) scale(0.9901,1)" font-size="29.59">135</text>
<text transform="translate(1404.80,1105.30) scale(0.9901,1)" font-size="29.59">116</text>
<text transform="translate(1552.66,1040.00) scale(0.9901,1)" font-size="29.59">Number at risk</text>
<text transform="translate(1520.62,1076.00) scale(0.9901,1)" font-size="29.59">≤9:40</text>
<text transform="translate(1520.04,1105.50) scale(0.9901,1)" font-size="29.59">&gt;9:40</text>
<text transform="translate(1603.54,1076.00) scale(0.9901,1)" font-size="29.59">219</text>
<text transform="translate(1603.54,1105.50) scale(0.9901,1)" font-size="29.59">215</text>
<text transform="translate(1667.80,1076.00) scale(0.9901,1)" font-size="29.59">183</text>
<text transform="translate(1667.80,1105.50) scale(0.9901,1)" font-size="29.59">172</text>
<text transform="translate(1729.70,1076.00) scale(0.9901,1)" font-size="29.59">170</text>
<text transform="translate(1729.70,1105.50) scale(0.9901,1)" font-size="29.59">155</text>
<text transform="translate(1792.80,1076.00) scale(0.9901,1)" font-size="29.59">164</text>
<text transform="translate(1792.80,1105.50) scale(0.9901,1)" font-size="29.59">147</text>
<text transform="translate(1855.60,1076.00) scale(0.9901,1)" font-size="29.59">160</text>
<text transform="translate(1855.60,1105.50) scale(0.9901,1)" font-size="29.59">144</text>
<text transform="translate(1919.20,1076.00) scale(0.9901,1)" font-size="29.59">157</text>
<text transform="translate(1919.20,1105.50) scale(0.9901,1)" font-size="29.59">141</text>
<text transform="translate(38.46,1597.30) scale(0.9901,1)" font-size="29.59">Number at risk</text>
<text transform="translate(9.12,1633.30) scale(0.9901,1)" font-size="29.59">≤9:40</text>
<text transform="translate(8.54,1662.30) scale(0.9901,1)" font-size="29.59">&gt;9:40</text>
<text transform="translate(81.53,1633.30) scale(0.9901,1)" font-size="29.59">219</text>
<text transform="translate(81.53,1662.30) scale(0.9901,1)" font-size="29.59">215</text>
<text transform="translate(146.80,1633.30) scale(0.9901,1)" font-size="29.59">197</text>
<text transform="translate(146.80,1662.30) scale(0.9901,1)" font-size="29.59">178</text>
<text transform="translate(210.80,1633.30) scale(0.9901,1)" font-size="29.59">184</text>
<text transform="translate(210.80,1662.30) scale(0.9901,1)" font-size="29.59">167</text>
<text transform="translate(275.10,1633.30) scale(0.9901,1)" font-size="29.59">177</text>
<text transform="translate(275.10,1662.30) scale(0.9901,1)" font-size="29.59">157</text>
<text transform="translate(340.00,1633.30) scale(0.9901,1)" font-size="29.59">174</text>
<text transform="translate(340.00,1662.30) scale(0.9901,1)" font-size="29.59">152</text>
<text transform="translate(404.30,1633.30) scale(0.9901,1)" font-size="29.59">169</text>
<text transform="translate(404.30,1662.30) scale(0.9901,1)" font-size="29.59">150</text>
<text transform="translate(551.66,1597.50) scale(0.9901,1)" font-size="29.59">Number at risk</text>
<text transform="translate(523.62,1633.50) scale(0.9901,1)" font-size="29.59">≤9:40</text>
<text transform="translate(523.03,1663.00) scale(0.9901,1)" font-size="29.59">&gt;9:40</text>
<text transform="translate(598.03,1633.50) scale(0.9901,1)" font-size="29.59">219</text>
<text transform="translate(598.03,1663.00) scale(0.9901,1)" font-size="29.59">215</text>
<text transform="translate(665.30,1633.50) scale(0.9901,1)" font-size="29.59">187</text>
<text transform="translate(665.30,1663.00) scale(0.9901,1)" font-size="29.59">174</text>
<text transform="translate(729.80,1633.50) scale(0.9901,1)" font-size="29.59">174</text>
<text transform="translate(729.80,1663.00) scale(0.9901,1)" font-size="29.59">157</text>
<text transform="translate(795.80,1633.50) scale(0.9901,1)" font-size="29.59">168</text>
<text transform="translate(795.80,1663.00) scale(0.9901,1)" font-size="29.59">148</text>
<text transform="translate(861.55,1633.50) scale(0.9901,1)" font-size="29.59">164</text>
<text transform="translate(861.55,1663.00) scale(0.9901,1)" font-size="29.59">145</text>
<text transform="translate(927.80,1633.50) scale(0.9901,1)" font-size="29.59">161</text>
<text transform="translate(927.80,1663.00) scale(0.9901,1)" font-size="29.59">142</text>
<text transform="translate(1043.16,1605.80) scale(0.9901,1)" font-size="29.59">Number at risk</text>
<text transform="translate(1016.12,1641.20) scale(0.9901,1)" font-size="29.59">≤9:40</text>
<text transform="translate(1015.53,1670.00) scale(0.9901,1)" font-size="29.59">&gt;9:40</text>
<text transform="translate(1092.04,1641.20) scale(0.9901,1)" font-size="29.59">219</text>
<text transform="translate(1092.04,1670.00) scale(0.9901,1)" font-size="29.59">215</text>
<text transform="translate(1160.80,1641.20) scale(0.9901,1)" font-size="29.59">165</text>
<text transform="translate(1160.80,1670.00) scale(0.9901,1)" font-size="29.59">129</text>
<text transform="translate(1227.00,1641.20) scale(0.9901,1)" font-size="29.59">145</text>
<text transform="translate(1227.00,1670.00) scale(0.9901,1)" font-size="29.59">109</text>
<text transform="translate(1294.70,1641.20) scale(0.9901,1)" font-size="29.59">133</text>
<text transform="translate(1294.70,1670.00) scale(0.9901,1)" font-size="29.59">103</text>
<text transform="translate(1362.30,1641.20) scale(0.9901,1)" font-size="29.59">129</text>
<text transform="translate(1362.30,1670.00) scale(0.9901,1)" font-size="29.59">100</text>
<text transform="translate(1429.90,1641.20) scale(0.9901,1)" font-size="29.59">126</text>
<text transform="translate(1430.78,1670.00) scale(0.9901,1)" font-size="29.59">96</text>
<text transform="translate(1550.16,1609.20) scale(0.9901,1)" font-size="29.59">Number at risk</text>
<text transform="translate(1522.62,1645.00) scale(0.9901,1)" font-size="29.59">≤9:40</text>
<text transform="translate(1522.04,1673.50) scale(0.9901,1)" font-size="29.59">&gt;9:40</text>
<text transform="translate(1598.54,1645.00) scale(0.9901,1)" font-size="29.59">219</text>
<text transform="translate(1598.54,1673.50) scale(0.9901,1)" font-size="29.59">215</text>
<text transform="translate(1668.30,1645.00) scale(0.9901,1)" font-size="29.59">183</text>
<text transform="translate(1668.30,1673.50) scale(0.9901,1)" font-size="29.59">172</text>
<text transform="translate(1736.10,1645.00) scale(0.9901,1)" font-size="29.59">170</text>
<text transform="translate(1736.10,1673.50) scale(0.9901,1)" font-size="29.59">155</text>
<text transform="translate(1804.40,1645.00) scale(0.9901,1)" font-size="29.59">164</text>
<text transform="translate(1804.40,1673.50) scale(0.9901,1)" font-size="29.59">147</text>
<text transform="translate(1873.00,1645.00) scale(0.9901,1)" font-size="29.59">160</text>
<text transform="translate(1873.00,1673.50) scale(0.9901,1)" font-size="29.59">144</text>
<text transform="translate(1941.30,1645.00) scale(0.9901,1)" font-size="29.59">157</text>
<text transform="translate(1941.30,1673.50) scale(0.9901,1)" font-size="29.59">141</text>
<text transform="translate(306.64,713.40) scale(0.9901,1)" font-size="30.50">p=0.416</text>
<text transform="translate(781.04,715.30) scale(0.9901,1)" font-size="30.50">p=0.004</text>
<text transform="translate(1286.34,728.60) scale(0.9901,1)" font-size="30.50">p=0.276</text>
<text transform="translate(1821.24,726.40) scale(0.9901,1)" font-size="30.50">p=0.067</text>
<text transform="translate(342.64,1440.00) scale(0.9901,1)" font-size="30.50">p=0.022</text>
<text transform="translate(830.54,1439.25) scale(0.9901,1)" font-size="30.50">p=0.050</text>
<text transform="translate(1340.94,1443.70) scale(0.9901,1)" font-size="30.50">p&lt;0.001</text>
<text transform="translate(1827.24,1287.50) scale(0.9901,1)" font-size="30.50">p=0.775</text>
<text transform="translate(129.88,773.40) scale(0.9901,1)" font-size="25.72">37.0% (95% CI,30.6-43.4%)</text>
<text transform="translate(268.98,912.90) scale(0.9901,1)" font-size="25.65">34.0%</text>
<text transform="translate(188.18,935.70) scale(0.9901,1)" font-size="25.66">(95% CI,27.7-40.3%)</text>
<text transform="translate(600.74,814.50) scale(0.9901,1)" font-size="25.54">27.9% (95% CI,22.1-34.0%)</text>
<text transform="translate(758.60,918.90) scale(0.9901,1)" font-size="25.65">16.0%</text>
<text transform="translate(677.78,940.00) scale(0.9901,1)" font-size="25.60">(95% CI,11.5-21.2%)</text>
<text transform="translate(1088.11,789.70) scale(0.9901,1)" font-size="25.51">15.3% (95% CI,10.9-20.5%)</text>
<text transform="translate(1080.39,868.20) scale(0.9901,1)" font-size="25.68">11.9% (95% CI,8.0-16.6%)</text>
<text transform="translate(1635.13,811.30) scale(0.9901,1)" font-size="25.14">18.0% (95% CI,13.1-23.4%)</text>
<text transform="translate(1607.92,870.10) scale(0.9901,1)" font-size="25.32">11.6% (95% CI,7.8-16.3%)</text>
<text transform="translate(320.53,1209.30) scale(0.9901,1)" font-size="25.65">78.5%</text>
<text transform="translate(198.25,1231.70) scale(0.9901,1)" font-size="26.05">(95% CI,72.5-83.4%)</text>
<text transform="translate(304.93,1312.00) scale(0.9901,1)" font-size="25.65">68.8%</text>
<text transform="translate(186.98,1334.90) scale(0.9901,1)" font-size="25.60">(95% CI,62.2-74.6%)</text>
<text transform="translate(827.48,1211.25) scale(0.9901,1)" font-size="25.65">74.9%</text>
<text transform="translate(707.96,1233.75) scale(0.9901,1)" font-size="25.87">(95% CI,68.6-80.1%)</text>
<text transform="translate(823.23,1331.25) scale(0.9901,1)" font-size="25.65">66.0%</text>
<text transform="translate(704.73,1353.75) scale(0.9901,1)" font-size="25.62">(95% CI,59.3-71.9%)</text>
<text transform="translate(1354.63,1252.70) scale(0.9901,1)" font-size="25.65">60.1%</text>
<text transform="translate(1234.65,1275.60) scale(0.9901,1)" font-size="26.15">(95% CI,53.3-66.3%)</text>
<text transform="translate(1343.69,1387.40) scale(0.9901,1)" font-size="25.65">45.8%</text>
<text transform="translate(1222.95,1411.20) scale(0.9901,1)" font-size="26.01">(95% CI,39.0-52.4%)</text>
<text transform="translate(1646.93,1391.40) scale(0.9901,1)" font-size="25.23">15.2% (95% CI,10.7-20.4%)</text>
<text transform="translate(1600.11,1426.20) scale(0.9901,1)" font-size="25.39">13.9% (95% CI,9.7-18.9%)</text>
<line x1="355.40" y1="774.00" x2="412.50" y2="832.40" stroke-width="3" stroke-linecap="butt"/>
<line x1="365.50" y1="885.20" x2="411.00" y2="847.50" stroke-width="3" stroke-linecap="butt"/>
<line x1="869.00" y1="818.00" x2="908.60" y2="858.80" stroke-width="3" stroke-linecap="butt"/>
<line x1="880.50" y1="917.70" x2="909.80" y2="894.00" stroke-width="3" stroke-linecap="butt"/>
<line x1="1360.10" y1="835.40" x2="1414.20" y2="892.10" stroke-width="3" stroke-linecap="butt"/>
<line x1="1361.90" y1="875.50" x2="1424.10" y2="903.40" stroke-width="3" stroke-linecap="butt"/>
<line x1="1886.30" y1="825.40" x2="1941.30" y2="882.30" stroke-width="3" stroke-linecap="butt"/>
<line x1="1880.60" y1="876.70" x2="1942.30" y2="904.10" stroke-width="3" stroke-linecap="butt"/>
<line x1="399.00" y1="1233.00" x2="436.00" y2="1252.00" stroke-width="3" stroke-linecap="butt"/>
<line x1="403.40" y1="1310.90" x2="430.00" y2="1286.00" stroke-width="3" stroke-linecap="butt"/>
<line x1="914.50" y1="1247.50" x2="954.00" y2="1268.00" stroke-width="3" stroke-linecap="butt"/>
<line x1="923.00" y1="1325.00" x2="952.50" y2="1299.50" stroke-width="3" stroke-linecap="butt"/>
<line x1="1417.50" y1="1288.00" x2="1458.00" y2="1309.00" stroke-width="3" stroke-linecap="butt"/>
<line x1="1427.50" y1="1381.40" x2="1456.00" y2="1357.00" stroke-width="3" stroke-linecap="butt"/>
<line x1="1913.90" y1="1396.80" x2="1966.70" y2="1451.70" stroke-width="3" stroke-linecap="butt"/>
<line x1="1899.80" y1="1428.70" x2="1961.50" y2="1455.90" stroke-width="3" stroke-linecap="butt"/>
<line x1="944.00" y1="1299.50" x2="952.50" y2="1299.50" stroke-width="3" stroke-linecap="butt"/>
<line x1="77.20" y1="583.10" x2="125.60" y2="583.10" stroke-width="3" stroke-linecap="butt"/>
<line x1="77.20" y1="618.90" x2="94.20" y2="618.90" stroke-width="3" stroke-linecap="butt"/>
<line x1="110.70" y1="618.90" x2="125.60" y2="618.90" stroke-width="3" stroke-linecap="butt"/>
<text transform="translate(130.68,591.10) scale(0.9901,1)" font-size="29.40">Infused ≤ 9:40 am (n=219)</text>
<text transform="translate(130.71,626.00) scale(0.9901,1)" font-size="29.04">Infused &gt; 9:40 am (n=215)</text>
<path d="M128.50,936.50 L163.00,936.50 L165.50,936.50 L165.50,934.25 L168.00,934.25 L168.00,932.00 L169.00,932.00 L169.00,926.00 L172.00,926.00 L172.00,924.00 L174.50,924.00 L174.50,916.00 L177.00,916.00 L177.00,914.00 L178.00,914.00 L178.00,907.00 L180.00,907.00 L180.00,904.00 L182.00,904.00 L182.00,903.00 L185.00,903.00 L185.00,900.00 L186.00,900.00 L186.00,892.00 L189.00,892.00 L189.00,890.00 L190.00,890.00 L190.00,884.00 L192.00,884.00 L192.00,883.00 L193.00,883.00 L193.00,878.00 L195.00,878.00 L195.00,877.00 L196.00,877.00 L196.00,872.00 L198.00,872.00 L198.00,870.00 L199.00,870.00 L199.00,866.00 L201.00,866.00 L201.00,864.00 L202.00,864.00 L202.00,860.00 L204.00,860.00 L204.00,858.00 L205.00,858.00 L205.00,852.00 L207.00,852.00 L207.00,850.00 L210.00,850.00 L210.00,849.50 L213.00,849.50 L213.00,849.00 L214.00,849.00 L214.00,844.00 L216.00,844.00 L216.00,842.00 L219.00,842.00 L219.00,840.00 L221.00,840.00 L243.00,840.00 L244.00,840.00 L244.00,838.50 L271.00,838.50 L272.00,838.50 L272.00,837.00 L310.00,837.00 L311.00,837.00 L311.00,836.30 L413.50,836.30" fill="none" stroke-width="3" stroke-linejoin="miter" stroke-miterlimit="2"/>
<path d="M128.50,936.50 L163.00,936.50 L165.50,936.50 L165.50,934.25 L168.00,934.25 L168.00,932.00 L172.00,932.00 L172.00,926.00 L176.00,926.00 L176.00,916.00 L180.00,916.00 L180.00,906.00 L184.00,906.00 L184.00,898.00 L188.00,898.00 L188.00,890.00 L192.00,890.00 L192.00,886.00 L196.00,886.00 L196.00,882.00 L200.00,882.00 L200.00,879.00 L202.50,879.00 L202.50,877.50 L205.00,877.50 L205.00,876.00 L207.50,876.00 L207.50,874.00 L210.00,874.00 L210.00,872.00 L212.50,872.00 L212.50,869.00 L215.00,869.00 L215.00,866.00 L217.50,866.00 L217.50,863.50 L220.00,863.50 L220.00,861.00 L222.67,861.00 L222.67,860.33 L225.33,860.33 L225.33,859.67 L228.00,859.67 L228.00,859.00 L231.50,859.00 L231.50,858.00 L235.00,858.00 L235.00,857.00 L238.33,857.00 L238.33,855.67 L241.67,855.67 L241.67,854.33 L245.00,854.33 L245.00,853.00 L248.33,853.00 L248.33,852.33 L251.67,852.33 L251.67,851.67 L255.00,851.67 L255.00,851.00 L258.50,851.00 L258.50,850.50 L262.00,850.50 L262.00,850.00 L264.75,850.00 L264.75,849.62 L267.50,849.62 L267.50,849.25 L270.25,849.25 L270.25,848.88 L273.00,848.88 L273.00,848.50 L295.00,848.50 L297.50,848.50 L297.50,847.25 L300.00,847.25 L300.00,846.00 L330.00,846.00 L333.00,846.00 L333.00,845.80 L336.00,845.80 L336.00,845.60 L339.00,845.60 L339.00,845.40 L342.00,845.40 L342.00,845.20 L345.00,845.20 L345.00,845.00 L347.98,845.00 L347.98,844.97 L350.96,844.97 L350.96,844.95 L353.93,844.95 L353.93,844.92 L356.91,844.92 L356.91,844.90 L359.89,844.90 L359.89,844.87 L362.87,844.87 L362.87,844.84 L365.85,844.84 L365.85,844.82 L368.83,844.82 L368.83,844.79 L371.80,844.79 L371.80,844.77 L374.78,844.77 L374.78,844.74 L377.76,844.74 L377.76,844.71 L380.74,844.71 L380.74,844.69 L383.72,844.69 L383.72,844.66 L386.70,844.66 L386.70,844.63 L389.67,844.63 L389.67,844.61 L392.65,844.61 L392.65,844.58 L395.63,844.58 L395.63,844.56 L398.61,844.56 L398.61,844.53 L401.59,844.53 L401.59,844.50 L404.57,844.50 L404.57,844.48 L407.54,844.48 L407.54,844.45 L410.52,844.45 L410.52,844.43 L413.50,844.43 L413.50,844.40" fill="none" stroke-width="3" stroke-dasharray="18 14" stroke-linejoin="miter" stroke-miterlimit="2"/>
<path d="M604.00,937.00 L640.00,937.00 L642.67,937.00 L642.67,936.17 L645.33,936.17 L645.33,935.33 L648.00,935.33 L648.00,934.50 L650.67,934.50 L650.67,933.33 L653.33,933.33 L653.33,932.17 L656.00,932.17 L656.00,931.00 L658.67,931.00 L658.67,930.33 L661.33,930.33 L661.33,929.67 L664.00,929.67 L664.00,929.00 L667.00,929.00 L667.00,926.50 L670.00,926.50 L670.00,924.00 L673.00,924.00 L673.00,922.40 L676.00,922.40 L676.00,920.80 L679.00,920.80 L679.00,919.20 L682.00,919.20 L682.00,917.60 L685.00,917.60 L685.00,916.00 L687.50,916.00 L687.50,913.00 L690.00,913.00 L690.00,910.00 L692.67,910.00 L692.67,907.33 L695.33,907.33 L695.33,904.67 L698.00,904.67 L698.00,902.00 L700.00,902.00 L700.00,899.00 L703.33,899.00 L703.33,898.67 L706.67,898.67 L706.67,898.33 L710.00,898.33 L710.00,898.00 L713.33,898.00 L713.33,897.33 L716.67,897.33 L716.67,896.67 L720.00,896.67 L720.00,896.00 L750.00,896.00 L751.00,896.00 L751.00,895.00 L800.00,895.00 L803.00,895.00 L803.00,894.91 L806.00,894.91 L806.00,894.83 L809.00,894.83 L809.00,894.74 L812.00,894.74 L812.00,894.66 L815.00,894.66 L815.00,894.57 L818.00,894.57 L818.00,894.49 L821.00,894.49 L821.00,894.40 L823.40,894.40 L823.40,893.20 L912.20,893.20" fill="none" stroke-width="3" stroke-linejoin="miter" stroke-miterlimit="2"/>
<path d="M604.00,937.00 L640.00,937.00 L642.67,937.00 L642.67,936.17 L645.33,936.17 L645.33,935.33 L648.00,935.33 L648.00,934.50 L650.67,934.50 L650.67,933.33 L653.33,933.33 L653.33,932.17 L656.00,932.17 L656.00,931.00 L658.67,931.00 L658.67,930.00 L661.33,930.00 L661.33,929.00 L664.00,929.00 L664.00,928.00 L667.00,928.00 L667.00,926.00 L670.00,926.00 L670.00,924.00 L672.67,924.00 L672.67,922.00 L675.33,922.00 L675.33,920.00 L678.00,920.00 L678.00,918.00 L682.00,918.00 L682.00,912.00 L683.00,912.00 L683.00,906.00 L685.00,906.00 L685.00,900.00 L687.50,900.00 L687.50,899.00 L690.00,899.00 L690.00,898.00 L693.00,898.00 L693.00,897.00 L696.00,897.00 L696.00,896.00 L698.00,896.00 L698.00,888.00 L701.00,888.00 L701.00,886.75 L704.00,886.75 L704.00,885.50 L708.00,885.50 L708.00,882.00 L712.00,882.00 L712.00,879.00 L712.50,879.00 L712.50,873.00 L715.83,873.00 L715.83,872.33 L719.17,872.33 L719.17,871.67 L722.50,871.67 L722.50,871.00 L725.75,871.00 L725.75,870.50 L729.00,870.50 L729.00,870.00 L732.50,870.00 L732.50,869.75 L736.00,869.75 L736.00,869.50 L738.80,869.50 L738.80,869.00 L741.60,869.00 L741.60,868.50 L744.40,868.50 L744.40,868.00 L747.20,868.00 L747.20,867.50 L750.00,867.50 L750.00,867.00 L767.00,867.00 L769.83,867.00 L769.83,866.83 L772.67,866.83 L772.67,866.67 L775.50,866.67 L775.50,866.50 L778.33,866.50 L778.33,866.33 L781.17,866.33 L781.17,866.17 L784.00,866.17 L784.00,866.00 L787.20,866.00 L787.20,865.90 L790.40,865.90 L790.40,865.80 L793.60,865.80 L793.60,865.70 L796.80,865.70 L796.80,865.60 L800.00,865.60 L800.00,865.50 L802.85,865.50 L802.85,865.33 L805.70,865.33 L805.70,865.15 L808.55,865.15 L808.55,864.97 L811.40,864.97 L811.40,864.80 L813.80,864.80 L813.80,863.60 L816.78,863.60 L816.78,863.54 L819.76,863.54 L819.76,863.48 L822.75,863.48 L822.75,863.43 L825.73,863.43 L825.73,863.37 L828.71,863.37 L828.71,863.31 L831.69,863.31 L831.69,863.25 L834.67,863.25 L834.67,863.20 L837.65,863.20 L837.65,863.14 L840.64,863.14 L840.64,863.08 L843.62,863.08 L843.62,863.02 L846.60,863.02 L846.60,862.97 L849.58,862.97 L849.58,862.91 L852.56,862.91 L852.56,862.85 L855.55,862.85 L855.55,862.79 L858.53,862.79 L858.53,862.74 L861.51,862.74 L861.51,862.68 L864.49,862.68 L864.49,862.62 L867.47,862.62 L867.47,862.56 L870.45,862.56 L870.45,862.51 L873.44,862.51 L873.44,862.45 L876.42,862.45 L876.42,862.39 L879.40,862.39 L879.40,862.33 L882.38,862.33 L882.38,862.28 L885.36,862.28 L885.36,862.22 L888.35,862.22 L888.35,862.16 L891.33,862.16 L891.33,862.10 L894.31,862.10 L894.31,862.05 L897.29,862.05 L897.29,861.99 L900.27,861.99 L900.27,861.93 L903.25,861.93 L903.25,861.87 L906.24,861.87 L906.24,861.82 L909.22,861.82 L909.22,861.76 L912.20,861.76 L912.20,861.70" fill="none" stroke-width="3" stroke-dasharray="18 14" stroke-linejoin="miter" stroke-miterlimit="2"/>
<path d="M1093.00,939.80 L1128.00,939.80 L1130.50,939.80 L1130.50,939.40 L1133.00,939.40 L1133.00,939.00 L1136.50,939.00 L1136.50,937.50 L1140.00,937.50 L1140.00,936.00 L1143.00,936.00 L1143.00,935.00 L1146.00,935.00 L1146.00,934.00 L1149.00,934.00 L1149.00,933.00 L1152.00,933.00 L1152.00,932.00 L1153.00,932.00 L1153.00,929.00 L1164.00,929.00 L1165.00,929.00 L1165.00,926.00 L1171.00,926.00 L1172.00,926.00 L1172.00,921.00 L1174.67,921.00 L1174.67,920.33 L1177.33,920.33 L1177.33,919.67 L1180.00,919.67 L1180.00,919.00 L1180.00,915.50 L1183.33,915.50 L1183.33,915.00 L1186.67,915.00 L1186.67,914.50 L1190.00,914.50 L1190.00,914.00 L1191.00,914.00 L1191.00,913.00 L1226.00,913.00 L1228.00,913.00 L1228.00,912.00 L1230.75,912.00 L1230.75,911.75 L1233.50,911.75 L1233.50,911.50 L1236.25,911.50 L1236.25,911.25 L1239.00,911.25 L1239.00,911.00 L1240.00,911.00 L1240.00,910.00 L1256.00,910.00 L1260.00,910.00 L1260.00,908.00 L1263.50,908.00 L1263.50,907.50 L1267.00,907.50 L1267.00,907.00 L1268.00,907.00 L1268.00,905.00 L1289.90,905.00 L1293.00,905.00 L1293.00,905.02 L1296.10,905.02 L1296.10,905.04 L1299.20,905.04 L1299.20,905.07 L1302.30,905.07 L1302.30,905.09 L1305.40,905.09 L1305.40,905.11 L1308.50,905.11 L1308.50,905.13 L1311.60,905.13 L1311.60,905.16 L1314.70,905.16 L1314.70,905.18 L1317.80,905.18 L1317.80,905.20 L1318.70,905.20 L1318.70,903.80 L1441.20,903.80" fill="none" stroke-width="3" stroke-linejoin="miter" stroke-miterlimit="2"/>
<path d="M1093.00,939.80 L1128.00,939.80 L1132.00,939.80 L1132.00,936.00 L1134.50,936.00 L1134.50,934.25 L1137.00,934.25 L1137.00,932.50 L1139.50,932.50 L1139.50,930.75 L1142.00,930.75 L1142.00,929.00 L1146.00,929.00 L1146.00,925.50 L1152.00,925.50 L1154.00,925.50 L1154.00,917.50 L1155.00,917.50 L1155.00,917.00 L1158.50,917.00 L1158.50,916.60 L1162.00,916.60 L1162.00,916.20 L1164.67,916.20 L1164.67,915.97 L1167.33,915.97 L1167.33,915.73 L1170.00,915.73 L1170.00,915.50 L1171.00,915.50 L1171.00,910.00 L1181.00,910.00 L1184.50,910.00 L1184.50,909.25 L1188.00,909.25 L1188.00,908.50 L1191.25,908.50 L1191.25,907.75 L1194.50,907.75 L1194.50,907.00 L1197.40,907.00 L1197.40,907.10 L1200.30,907.10 L1200.30,907.20 L1203.20,907.20 L1203.20,907.30 L1206.10,907.30 L1206.10,907.40 L1209.00,907.40 L1209.00,907.50 L1209.50,907.50 L1209.50,905.00 L1212.25,905.00 L1212.25,904.00 L1215.00,904.00 L1215.00,903.00 L1217.75,903.00 L1217.75,901.75 L1220.50,901.75 L1220.50,900.50 L1238.00,900.50 L1253.50,900.50 L1267.00,900.50 L1267.00,896.00 L1283.00,896.00 L1289.90,896.00 L1292.75,896.00 L1292.75,896.10 L1295.60,896.10 L1295.60,896.20 L1298.45,896.20 L1298.45,896.30 L1301.30,896.30 L1301.30,896.40 L1304.15,896.40 L1304.15,896.50 L1307.00,896.50 L1307.00,896.60 L1307.00,894.80 L1309.98,894.80 L1309.98,894.83 L1312.97,894.83 L1312.97,894.85 L1315.95,894.85 L1315.95,894.88 L1318.94,894.88 L1318.94,894.91 L1321.92,894.91 L1321.92,894.93 L1324.91,894.93 L1324.91,894.96 L1327.89,894.96 L1327.89,894.98 L1330.87,894.98 L1330.87,895.01 L1333.86,895.01 L1333.86,895.04 L1336.84,895.04 L1336.84,895.06 L1339.83,895.06 L1339.83,895.09 L1342.81,895.09 L1342.81,895.12 L1345.79,895.12 L1345.79,895.14 L1348.78,895.14 L1348.78,895.17 L1351.76,895.17 L1351.76,895.19 L1354.75,895.19 L1354.75,895.22 L1357.73,895.22 L1357.73,895.25 L1360.72,895.25 L1360.72,895.27 L1363.70,895.27 L1363.70,895.30 L1363.70,893.00 L1366.64,893.00 L1366.64,893.02 L1369.58,893.02 L1369.58,893.04 L1372.52,893.04 L1372.52,893.07 L1375.46,893.07 L1375.46,893.09 L1378.40,893.09 L1378.40,893.11 L1381.33,893.11 L1381.33,893.13 L1384.27,893.13 L1384.27,893.15 L1387.21,893.15 L1387.21,893.17 L1390.15,893.17 L1390.15,893.20 L1393.09,893.20 L1393.09,893.22 L1396.03,893.22 L1396.03,893.24 L1398.97,893.24 L1398.97,893.26 L1401.91,893.26 L1401.91,893.28 L1404.85,893.28 L1404.85,893.30 L1407.79,893.30 L1407.79,893.33 L1410.73,893.33 L1410.73,893.35 L1413.67,893.35 L1413.67,893.37 L1416.60,893.37 L1416.60,893.39 L1419.54,893.39 L1419.54,893.41 L1422.48,893.41 L1422.48,893.43 L1425.42,893.43 L1425.42,893.46 L1428.36,893.46 L1428.36,893.48 L1431.30,893.48 L1431.30,893.50" fill="none" stroke-width="3" stroke-dasharray="18 14" stroke-linejoin="miter" stroke-miterlimit="2"/>
<path d="M1613.00,939.00 L1616.50,939.00 L1616.50,938.50 L1620.00,938.50 L1620.00,938.00 L1624.00,938.00 L1624.00,934.00 L1627.50,934.00 L1627.50,934.50 L1631.00,934.50 L1631.00,935.00 L1632.50,935.00 L1632.50,930.00 L1633.50,930.00 L1633.50,924.00 L1635.75,924.00 L1635.75,923.50 L1638.00,923.50 L1638.00,923.00 L1641.33,923.00 L1641.33,922.50 L1644.67,922.50 L1644.67,922.00 L1648.00,922.00 L1648.00,921.50 L1650.50,921.50 L1650.50,920.00 L1653.00,920.00 L1653.00,918.50 L1655.83,918.50 L1655.83,917.83 L1658.67,917.83 L1658.67,917.17 L1661.50,917.17 L1661.50,916.50 L1664.33,916.50 L1664.33,915.83 L1667.17,915.83 L1667.17,915.17 L1670.00,915.17 L1670.00,914.50 L1671.00,914.50 L1671.00,911.00 L1674.00,911.00 L1674.00,910.50 L1677.00,910.50 L1677.00,910.00 L1680.00,910.00 L1680.00,909.50 L1700.00,909.50 L1704.00,909.50 L1704.00,907.00 L1707.25,907.00 L1707.25,906.88 L1710.50,906.88 L1710.50,906.75 L1713.75,906.75 L1713.75,906.62 L1717.00,906.62 L1717.00,906.50 L1718.00,906.50 L1718.00,905.90 L1849.50,905.90 L1850.00,905.90 L1850.00,904.60 L1954.90,904.60" fill="none" stroke-width="3" stroke-linejoin="miter" stroke-miterlimit="2"/>
<path d="M1613.00,939.00 L1616.50,939.00 L1616.50,938.50 L1620.00,938.50 L1620.00,938.00 L1624.00,938.00 L1624.00,934.00 L1627.50,934.00 L1627.50,929.00 L1631.00,929.00 L1631.00,924.00 L1634.00,924.00 L1634.00,921.67 L1637.00,921.67 L1637.00,919.33 L1640.00,919.33 L1640.00,917.00 L1643.50,917.00 L1643.50,915.75 L1647.00,915.75 L1647.00,914.50 L1650.00,914.50 L1650.00,913.25 L1653.00,913.25 L1653.00,912.00 L1656.00,912.00 L1656.00,910.00 L1659.00,910.00 L1659.00,908.00 L1663.00,908.00 L1663.00,905.50 L1667.00,905.50 L1667.00,902.00 L1669.50,902.00 L1669.50,900.25 L1672.00,900.25 L1672.00,898.50 L1674.67,898.50 L1674.67,897.83 L1677.33,897.83 L1677.33,897.17 L1680.00,897.17 L1680.00,896.50 L1683.50,896.50 L1683.50,896.00 L1687.00,896.00 L1687.00,895.50 L1690.00,895.50 L1690.00,894.50 L1693.00,894.50 L1693.00,893.50 L1695.50,893.50 L1695.50,892.50 L1698.00,892.50 L1698.00,891.50 L1700.75,891.50 L1700.75,891.25 L1703.50,891.25 L1703.50,891.00 L1706.25,891.00 L1706.25,890.75 L1709.00,890.75 L1709.00,890.50 L1712.00,890.50 L1712.00,890.25 L1715.00,890.25 L1715.00,890.00 L1723.00,890.00 L1726.50,890.00 L1726.50,890.25 L1730.00,890.25 L1730.00,890.50 L1733.00,890.50 L1733.00,889.67 L1736.00,889.67 L1736.00,888.83 L1739.00,888.83 L1739.00,888.00 L1743.00,888.00 L1743.00,886.00 L1804.90,886.00 L1807.91,886.00 L1807.91,886.00 L1810.91,886.00 L1810.91,886.00 L1813.92,886.00 L1813.92,886.01 L1816.93,886.01 L1816.93,886.01 L1819.93,886.01 L1819.93,886.01 L1822.94,886.01 L1822.94,886.01 L1825.95,886.01 L1825.95,886.02 L1828.95,886.02 L1828.95,886.02 L1831.96,886.02 L1831.96,886.02 L1834.97,886.02 L1834.97,886.02 L1837.97,886.02 L1837.97,886.02 L1840.98,886.02 L1840.98,886.03 L1843.98,886.03 L1843.98,886.03 L1846.99,886.03 L1846.99,886.03 L1850.00,886.03 L1850.00,886.03 L1853.00,886.03 L1853.00,886.03 L1856.01,886.03 L1856.01,886.04 L1859.02,886.04 L1859.02,886.04 L1862.02,886.04 L1862.02,886.04 L1865.03,886.04 L1865.03,886.04 L1868.04,886.04 L1868.04,886.05 L1871.04,886.05 L1871.04,886.05 L1874.05,886.05 L1874.05,886.05 L1877.06,886.05 L1877.06,886.05 L1880.06,886.05 L1880.06,886.05 L1883.07,886.05 L1883.07,886.06 L1886.08,886.06 L1886.08,886.06 L1889.08,886.06 L1889.08,886.06 L1892.09,886.06 L1892.09,886.06 L1895.10,886.06 L1895.10,886.07 L1898.10,886.07 L1898.10,886.07 L1901.11,886.07 L1901.11,886.07 L1904.12,886.07 L1904.12,886.07 L1907.12,886.07 L1907.12,886.07 L1910.13,886.07 L1910.13,886.08 L1913.13,886.08 L1913.13,886.08 L1916.14,886.08 L1916.14,886.08 L1919.15,886.08 L1919.15,886.08 L1922.15,886.08 L1922.15,886.08 L1925.16,886.08 L1925.16,886.09 L1928.17,886.09 L1928.17,886.09 L1931.17,886.09 L1931.17,886.09 L1934.18,886.09 L1934.18,886.09 L1937.19,886.09 L1937.19,886.10 L1940.19,886.10 L1940.19,886.10 L1943.20,886.10 L1943.20,886.10" fill="none" stroke-width="3" stroke-dasharray="18 14" stroke-linejoin="miter" stroke-miterlimit="2"/>
<path d="M91.00,1191.00 L98.00,1191.00 L102.00,1191.00 L102.00,1193.00 L104.67,1193.00 L104.67,1193.67 L107.33,1193.67 L107.33,1194.33 L110.00,1194.33 L110.00,1195.00 L112.00,1195.00 L112.00,1200.00 L114.00,1200.00 L114.00,1206.00 L118.00,1206.00 L118.00,1208.00 L120.67,1208.00 L120.67,1208.17 L123.33,1208.17 L123.33,1208.33 L126.00,1208.33 L126.00,1208.50 L129.00,1208.50 L129.00,1212.00 L131.50,1212.00 L131.50,1213.50 L134.00,1213.50 L134.00,1215.00 L137.00,1215.00 L137.00,1216.50 L139.75,1216.50 L139.75,1216.88 L142.50,1216.88 L142.50,1217.25 L145.25,1217.25 L145.25,1217.62 L148.00,1217.62 L148.00,1218.00 L152.00,1218.00 L152.00,1221.00 L154.50,1221.00 L154.50,1221.25 L157.00,1221.25 L157.00,1221.50 L160.00,1221.50 L160.00,1224.00 L167.00,1224.00 L171.00,1224.00 L171.00,1228.00 L174.00,1228.00 L174.00,1228.67 L177.00,1228.67 L177.00,1229.33 L180.00,1229.33 L180.00,1230.00 L183.00,1230.00 L183.00,1231.00 L186.00,1231.00 L186.00,1232.00 L189.00,1232.00 L189.00,1233.00 L192.00,1233.00 L192.00,1236.00 L194.50,1236.00 L194.50,1237.00 L197.00,1237.00 L197.00,1238.00 L200.50,1238.00 L200.50,1238.75 L204.00,1238.75 L204.00,1239.50 L229.00,1239.50 L232.00,1239.50 L232.00,1242.00 L235.50,1242.00 L235.50,1242.50 L239.00,1242.50 L239.00,1243.00 L242.00,1243.00 L242.00,1243.33 L245.00,1243.33 L245.00,1243.67 L248.00,1243.67 L248.00,1244.00 L250.00,1244.00 L250.00,1245.00 L279.00,1245.00 L282.00,1245.00 L282.00,1249.00 L317.00,1249.00 L319.00,1249.00 L319.00,1251.00 L333.00,1251.00 L335.67,1251.00 L335.67,1251.67 L338.33,1251.67 L338.33,1252.33 L341.00,1252.33 L341.00,1253.00 L364.00,1253.00 L366.00,1253.00 L366.00,1255.00 L384.00,1255.00 L385.00,1255.00 L385.00,1256.20 L441.00,1256.20" fill="none" stroke-width="3" stroke-linejoin="miter" stroke-miterlimit="2"/>
<path d="M91.00,1191.00 L94.50,1191.00 L94.50,1191.25 L98.00,1191.25 L98.00,1191.50 L102.00,1191.50 L102.00,1195.00 L105.50,1195.00 L105.50,1200.00 L109.00,1200.00 L109.00,1205.00 L110.00,1205.00 L110.00,1208.00 L114.00,1208.00 L114.00,1210.00 L118.00,1210.00 L118.00,1214.00 L121.00,1214.00 L121.00,1215.00 L124.00,1215.00 L124.00,1216.00 L127.00,1216.00 L127.00,1217.00 L130.00,1217.00 L130.00,1218.00 L134.00,1218.00 L134.00,1221.00 L138.00,1221.00 L138.00,1223.00 L139.00,1223.00 L139.00,1227.00 L142.00,1227.00 L142.00,1231.00 L146.00,1231.00 L146.00,1236.00 L150.00,1236.00 L150.00,1240.00 L153.00,1240.00 L153.00,1241.50 L156.00,1241.50 L156.00,1243.00 L159.00,1243.00 L159.00,1244.00 L162.00,1244.00 L162.00,1245.00 L165.00,1245.00 L165.00,1246.00 L168.00,1246.00 L168.00,1247.00 L175.00,1247.00 L177.50,1247.00 L177.50,1248.50 L180.00,1248.50 L180.00,1250.00 L180.00,1253.00 L183.00,1253.00 L183.00,1253.50 L186.00,1253.50 L186.00,1254.00 L189.50,1254.00 L189.50,1254.50 L193.00,1254.50 L193.00,1255.00 L197.00,1255.00 L197.00,1257.00 L200.00,1257.00 L200.00,1257.12 L203.00,1257.12 L203.00,1257.25 L206.00,1257.25 L206.00,1257.38 L209.00,1257.38 L209.00,1257.50 L212.00,1257.50 L212.00,1258.00 L215.00,1258.00 L215.00,1258.50 L218.50,1258.50 L218.50,1259.25 L222.00,1259.25 L222.00,1260.00 L225.00,1260.00 L225.00,1261.50 L227.75,1261.50 L227.75,1261.88 L230.50,1261.88 L230.50,1262.25 L233.25,1262.25 L233.25,1262.62 L236.00,1262.62 L236.00,1263.00 L239.00,1263.00 L239.00,1264.00 L242.00,1264.00 L242.00,1265.00 L245.00,1265.00 L245.00,1266.00 L248.00,1266.00 L248.00,1267.00 L252.00,1267.00 L252.00,1268.00 L253.00,1268.00 L253.00,1270.00 L263.00,1270.00 L265.80,1270.00 L265.80,1270.30 L268.60,1270.30 L268.60,1270.60 L271.40,1270.60 L271.40,1270.90 L274.20,1270.90 L274.20,1271.20 L277.00,1271.20 L277.00,1271.50 L280.00,1271.50 L280.00,1272.25 L283.00,1272.25 L283.00,1273.00 L285.67,1273.00 L285.67,1273.50 L288.33,1273.50 L288.33,1274.00 L291.00,1274.00 L291.00,1274.50 L294.20,1274.50 L294.20,1274.40 L297.40,1274.40 L297.40,1274.30 L300.60,1274.30 L300.60,1274.20 L303.80,1274.20 L303.80,1274.10 L307.00,1274.10 L307.00,1274.00 L309.50,1274.00 L309.50,1275.00 L312.00,1275.00 L312.00,1276.00 L315.33,1276.00 L315.33,1276.50 L318.67,1276.50 L318.67,1277.00 L322.00,1277.00 L322.00,1277.50 L325.20,1277.50 L325.20,1277.40 L328.40,1277.40 L328.40,1277.30 L331.60,1277.30 L331.60,1277.20 L334.80,1277.20 L334.80,1277.10 L338.00,1277.10 L338.00,1277.00 L340.50,1277.00 L340.50,1277.75 L343.00,1277.75 L343.00,1278.50 L346.00,1278.50 L346.00,1279.00 L349.00,1279.00 L349.00,1279.50 L352.00,1279.50 L352.00,1280.00 L368.00,1280.00 L372.00,1280.00 L372.00,1281.20 L384.00,1281.20 L387.20,1281.20 L387.20,1281.26 L390.40,1281.26 L390.40,1281.32 L393.60,1281.32 L393.60,1281.38 L396.80,1281.38 L396.80,1281.44 L400.00,1281.44 L400.00,1281.50 L402.00,1281.50 L402.00,1282.80 L416.00,1282.80 L418.80,1282.80 L418.80,1283.04 L421.60,1283.04 L421.60,1283.28 L424.40,1283.28 L424.40,1283.52 L427.20,1283.52 L427.20,1283.76 L430.00,1283.76 L430.00,1284.00 L434.00,1284.00 L434.00,1285.50 L437.50,1285.50 L437.50,1285.65 L441.00,1285.65 L441.00,1285.80" fill="none" stroke-width="3" stroke-dasharray="18 14" stroke-linejoin="miter" stroke-miterlimit="2"/>
<path d="M608.00,1194.50 L611.00,1194.50 L611.00,1194.67 L614.00,1194.67 L614.00,1194.83 L617.00,1194.83 L617.00,1195.00 L619.00,1195.00 L619.00,1200.00 L627.00,1200.00 L630.00,1200.00 L630.00,1209.00 L632.00,1209.00 L632.00,1212.00 L634.50,1212.00 L634.50,1212.50 L637.00,1212.50 L637.00,1213.00 L640.00,1213.00 L640.00,1214.80 L644.80,1214.80 L646.60,1214.80 L646.60,1218.40 L649.00,1218.40 L649.00,1220.80 L650.80,1220.80 L650.80,1224.40 L653.20,1224.40 L653.20,1225.90 L656.80,1225.90 L656.80,1226.05 L660.40,1226.05 L660.40,1226.20 L664.00,1226.20 L664.00,1232.80 L667.60,1232.80 L667.60,1233.10 L668.80,1233.10 L668.80,1238.80 L677.20,1238.80 L679.00,1238.80 L679.00,1241.80 L689.20,1241.80 L692.20,1241.80 L692.20,1243.60 L695.20,1243.60 L695.20,1245.10 L700.00,1245.10 L703.60,1245.10 L703.60,1251.40 L706.30,1251.40 L706.30,1251.48 L709.00,1251.48 L709.00,1251.55 L711.70,1251.55 L711.70,1251.62 L714.40,1251.62 L714.40,1251.70 L717.40,1251.70 L717.40,1256.20 L734.20,1256.20 L736.00,1256.20 L736.00,1258.00 L742.00,1258.00 L744.40,1258.00 L744.40,1260.40 L751.60,1260.40 L755.20,1260.40 L755.20,1262.80 L757.60,1262.80 L757.60,1263.40 L760.00,1263.40 L760.00,1264.00 L762.86,1264.00 L762.86,1264.07 L765.71,1264.07 L765.71,1264.14 L768.57,1264.14 L768.57,1264.21 L771.43,1264.21 L771.43,1264.29 L774.29,1264.29 L774.29,1264.36 L777.14,1264.36 L777.14,1264.43 L780.00,1264.43 L780.00,1264.50 L792.00,1264.50 L793.00,1264.50 L793.00,1266.50 L810.00,1266.50 L811.00,1266.50 L811.00,1268.50 L830.00,1268.50 L831.00,1268.50 L831.00,1269.50 L853.00,1269.50 L855.00,1269.50 L855.00,1272.20 L965.50,1272.20" fill="none" stroke-width="3" stroke-linejoin="miter" stroke-miterlimit="2"/>
<path d="M608.00,1194.50 L611.00,1194.50 L611.00,1194.67 L614.00,1194.67 L614.00,1194.83 L617.00,1194.83 L617.00,1195.00 L619.00,1195.00 L619.00,1200.00 L627.00,1200.00 L630.00,1200.00 L630.00,1209.00 L632.00,1209.00 L632.00,1212.00 L634.50,1212.00 L634.50,1212.75 L637.00,1212.75 L637.00,1213.50 L640.50,1213.50 L640.50,1214.75 L644.00,1214.75 L644.00,1216.00 L646.00,1216.00 L646.00,1221.00 L650.00,1221.00 L650.00,1229.00 L654.00,1229.00 L654.00,1232.00 L658.00,1232.00 L658.00,1236.00 L661.00,1236.00 L661.00,1240.00 L664.00,1240.00 L664.00,1243.60 L666.40,1243.60 L666.40,1245.40 L669.40,1245.40 L669.40,1250.20 L672.20,1250.20 L672.20,1251.60 L675.00,1251.60 L675.00,1253.00 L677.60,1253.00 L677.60,1253.70 L680.20,1253.70 L680.20,1254.40 L682.00,1254.40 L682.00,1255.60 L685.60,1255.60 L685.60,1255.90 L689.20,1255.90 L689.20,1256.20 L692.80,1256.20 L692.80,1257.40 L694.00,1257.40 L694.00,1259.80 L698.00,1259.80 L698.00,1263.00 L701.80,1263.00 L701.80,1265.80 L704.20,1265.80 L704.20,1266.10 L706.60,1266.10 L706.60,1266.40 L707.80,1266.40 L707.80,1267.90 L718.60,1267.90 L721.30,1267.90 L721.30,1268.70 L724.00,1268.70 L724.00,1269.50 L726.70,1269.50 L726.70,1270.50 L729.40,1270.50 L729.40,1271.50 L732.10,1271.50 L732.10,1274.65 L734.80,1274.65 L734.80,1277.80 L738.10,1277.80 L738.10,1278.10 L741.40,1278.10 L741.40,1278.40 L743.70,1278.40 L743.70,1279.20 L746.00,1279.20 L746.00,1280.00 L749.10,1280.00 L749.10,1281.00 L752.20,1281.00 L752.20,1282.00 L754.90,1282.00 L754.90,1282.75 L757.60,1282.75 L757.60,1283.50 L761.07,1283.50 L761.07,1284.00 L764.53,1284.00 L764.53,1284.50 L768.00,1284.50 L768.00,1285.00 L771.00,1285.00 L771.00,1285.25 L774.00,1285.25 L774.00,1285.50 L776.67,1285.50 L776.67,1285.83 L779.33,1285.83 L779.33,1286.17 L782.00,1286.17 L782.00,1286.50 L787.00,1286.50 L789.00,1286.50 L789.00,1288.50 L798.00,1288.50 L801.25,1288.50 L801.25,1289.00 L804.50,1289.00 L804.50,1289.50 L807.75,1289.50 L807.75,1290.00 L811.00,1290.00 L811.00,1290.50 L826.00,1290.50 L826.50,1290.50 L826.50,1292.50 L829.70,1292.50 L829.70,1292.40 L832.90,1292.40 L832.90,1292.30 L836.10,1292.30 L836.10,1292.20 L839.30,1292.20 L839.30,1292.10 L842.50,1292.10 L842.50,1292.00 L846.25,1292.00 L846.25,1292.25 L850.00,1292.25 L850.00,1292.50 L851.00,1292.50 L851.00,1294.00 L859.00,1294.00 L861.80,1294.00 L861.80,1294.20 L864.60,1294.20 L864.60,1294.40 L867.40,1294.40 L867.40,1294.60 L870.20,1294.60 L870.20,1294.80 L873.00,1294.80 L873.00,1295.00 L875.83,1295.00 L875.83,1295.08 L878.67,1295.08 L878.67,1295.17 L881.50,1295.17 L881.50,1295.25 L884.33,1295.25 L884.33,1295.33 L887.17,1295.33 L887.17,1295.42 L890.00,1295.42 L890.00,1295.50 L893.25,1295.50 L893.25,1296.00 L896.50,1296.00 L896.50,1296.50 L899.75,1296.50 L899.75,1297.00 L903.00,1297.00 L903.00,1297.50 L906.00,1297.50 L906.00,1297.75 L909.00,1297.75 L909.00,1298.00 L910.00,1298.00 L910.00,1299.80 L919.50,1299.80 L922.60,1299.80 L922.60,1299.74 L925.70,1299.74 L925.70,1299.68 L928.80,1299.68 L928.80,1299.62 L931.90,1299.62 L931.90,1299.56 L935.00,1299.56 L935.00,1299.50 L953.00,1299.50" fill="none" stroke-width="3" stroke-dasharray="18 14" stroke-linejoin="miter" stroke-miterlimit="2"/>
<path d="M1102.11,1183.13 L1104.65,1183.13 L1104.65,1183.63 L1107.19,1183.63 L1107.19,1184.14 L1109.22,1184.14 L1109.22,1193.28 L1112.27,1193.28 L1112.27,1200.39 L1113.28,1200.39 L1113.28,1210.55 L1115.31,1210.55 L1115.31,1215.63 L1118.02,1215.63 L1118.02,1217.66 L1120.73,1217.66 L1120.73,1219.69 L1123.44,1219.69 L1123.44,1221.72 L1126.49,1221.72 L1126.49,1222.74 L1129.54,1222.74 L1129.54,1223.76 L1132.58,1223.76 L1132.58,1224.77 L1135.63,1224.77 L1135.63,1225.79 L1138.68,1225.79 L1138.68,1228.33 L1141.72,1228.33 L1141.72,1230.87 L1144.77,1230.87 L1144.77,1236.96 L1148.83,1236.96 L1148.83,1240.01 L1151.88,1240.01 L1151.88,1241.02 L1154.93,1241.02 L1154.93,1242.04 L1157.47,1242.04 L1157.47,1245.09 L1160.01,1245.09 L1160.01,1248.13 L1164.07,1248.13 L1164.07,1249.15 L1166.10,1249.15 L1166.10,1255.24 L1169.15,1255.24 L1169.15,1255.92 L1172.20,1255.92 L1172.20,1256.60 L1175.24,1256.60 L1175.24,1257.28 L1178.29,1257.28 L1178.29,1260.32 L1184.39,1260.32 L1186.42,1260.32 L1186.42,1269.46 L1189.97,1269.46 L1189.97,1270.48 L1193.53,1270.48 L1193.53,1271.50 L1196.57,1271.50 L1196.57,1275.56 L1199.62,1275.56 L1199.62,1279.62 L1202.47,1279.62 L1202.47,1280.43 L1205.31,1280.43 L1205.31,1281.25 L1208.15,1281.25 L1208.15,1282.06 L1211.00,1282.06 L1211.00,1282.87 L1213.84,1282.87 L1213.84,1283.68 L1214.86,1283.68 L1214.86,1284.19 L1231.11,1284.19 L1234.66,1284.19 L1234.66,1284.95 L1238.22,1284.95 L1238.22,1285.72 L1240.76,1285.72 L1240.76,1287.75 L1243.30,1287.75 L1243.30,1289.78 L1246.35,1289.78 L1246.35,1290.46 L1249.39,1290.46 L1249.39,1291.13 L1252.44,1291.13 L1252.44,1291.81 L1254.98,1291.81 L1254.98,1293.84 L1257.52,1293.84 L1257.52,1295.87 L1260.57,1295.87 L1260.57,1295.96 L1263.61,1295.96 L1263.61,1296.04 L1266.66,1296.04 L1266.66,1296.13 L1269.71,1296.13 L1269.71,1296.21 L1272.76,1296.21 L1272.76,1296.30 L1275.80,1296.30 L1275.80,1296.38 L1278.51,1296.38 L1278.51,1297.57 L1281.22,1297.57 L1281.22,1298.75 L1283.93,1298.75 L1283.93,1299.94 L1287.31,1299.94 L1287.31,1301.29 L1290.70,1301.29 L1290.70,1302.65 L1294.09,1302.65 L1294.09,1304.00 L1295.00,1304.00 L1309.00,1304.00 L1310.00,1304.00 L1310.00,1305.50 L1329.00,1305.50 L1330.00,1305.50 L1330.00,1307.00 L1339.00,1307.00 L1340.00,1307.00 L1340.00,1308.50 L1356.00,1308.50 L1357.00,1308.50 L1357.00,1309.80 L1468.50,1309.80" fill="none" stroke-width="3" stroke-linejoin="miter" stroke-miterlimit="2"/>
<path d="M1102.11,1183.13 L1104.65,1183.13 L1104.65,1183.63 L1107.19,1183.63 L1107.19,1184.14 L1109.22,1184.14 L1109.22,1193.28 L1110.74,1193.28 L1110.74,1205.47 L1111.25,1205.47 L1111.25,1224.77 L1112.78,1224.77 L1112.78,1238.99 L1114.81,1238.99 L1114.81,1254.74 L1116.33,1254.74 L1116.33,1261.34 L1118.36,1261.34 L1118.36,1266.92 L1121.07,1266.92 L1121.07,1269.80 L1123.78,1269.80 L1123.78,1272.68 L1126.49,1272.68 L1126.49,1275.56 L1129.54,1275.56 L1129.54,1276.57 L1132.58,1276.57 L1132.58,1277.59 L1135.63,1277.59 L1135.63,1278.35 L1138.68,1278.35 L1138.68,1279.11 L1140.71,1279.11 L1140.71,1284.70 L1143.76,1284.70 L1143.76,1286.48 L1146.80,1286.48 L1146.80,1288.26 L1149.85,1288.26 L1149.85,1289.53 L1152.90,1289.53 L1152.90,1290.79 L1155.44,1290.79 L1155.44,1292.06 L1157.98,1292.06 L1157.98,1293.33 L1161.02,1293.33 L1161.02,1294.10 L1164.07,1294.10 L1164.07,1294.86 L1165.59,1294.86 L1165.59,1304.00 L1168.39,1304.00 L1168.39,1305.52 L1171.18,1305.52 L1171.18,1307.05 L1173.72,1307.05 L1173.72,1307.55 L1176.26,1307.55 L1176.26,1308.06 L1184.39,1308.06 L1186.42,1308.06 L1186.42,1312.63 L1189.97,1312.63 L1192.26,1312.63 L1192.26,1314.41 L1194.54,1314.41 L1194.54,1316.19 L1198.61,1316.19 L1198.61,1319.24 L1202.67,1319.24 L1202.67,1321.27 L1204.70,1321.27 L1204.70,1323.30 L1212.83,1323.30 L1215.87,1323.30 L1215.87,1324.31 L1218.92,1324.31 L1218.92,1325.33 L1221.46,1325.33 L1221.46,1326.35 L1224.00,1326.35 L1224.00,1327.36 L1227.05,1327.36 L1227.05,1333.46 L1229.76,1333.46 L1229.76,1333.63 L1232.46,1333.63 L1232.46,1333.79 L1235.17,1333.79 L1235.17,1333.96 L1238.22,1333.96 L1238.22,1334.60 L1241.27,1334.60 L1241.27,1335.23 L1244.31,1335.23 L1244.31,1335.87 L1247.36,1335.87 L1247.36,1336.50 L1265.64,1336.50 L1280.88,1336.50 L1284.94,1336.50 L1284.94,1337.52 L1286.98,1337.52 L1286.98,1341.58 L1289.65,1341.58 L1289.65,1341.75 L1292.33,1341.75 L1292.33,1341.92 L1295.00,1341.92 L1295.00,1342.09 L1291.67,1342.09 L1291.67,1340.39 L1288.33,1340.39 L1288.33,1338.70 L1285.00,1338.70 L1285.00,1337.00 L1286.00,1337.00 L1286.00,1342.00 L1289.50,1342.00 L1289.50,1342.50 L1293.00,1342.50 L1293.00,1343.00 L1296.25,1343.00 L1296.25,1343.45 L1299.50,1343.45 L1299.50,1343.90 L1302.75,1343.90 L1302.75,1344.35 L1306.00,1344.35 L1306.00,1344.80 L1325.00,1344.80 L1328.12,1344.80 L1328.12,1345.10 L1331.25,1345.10 L1331.25,1345.40 L1334.38,1345.40 L1334.38,1345.70 L1337.50,1345.70 L1337.50,1346.00 L1352.00,1346.00 L1354.00,1346.00 L1354.00,1348.00 L1356.80,1348.00 L1356.80,1348.24 L1359.60,1348.24 L1359.60,1348.48 L1362.40,1348.48 L1362.40,1348.72 L1365.20,1348.72 L1365.20,1348.96 L1368.00,1348.96 L1368.00,1349.20 L1386.50,1349.20 L1389.50,1349.20 L1389.50,1349.90 L1392.50,1349.90 L1392.50,1350.60 L1395.50,1350.60 L1395.50,1351.30 L1398.50,1351.30 L1398.50,1352.00 L1399.00,1352.00 L1399.00,1353.50 L1402.00,1353.50 L1402.00,1353.62 L1405.00,1353.62 L1405.00,1353.75 L1408.00,1353.75 L1408.00,1353.88 L1411.00,1353.88 L1411.00,1354.00 L1412.00,1354.00 L1412.00,1355.20 L1469.00,1355.20" fill="none" stroke-width="3" stroke-dasharray="18 14" stroke-linejoin="miter" stroke-miterlimit="2"/>
<path d="M1611.00,1501.00 L1613.75,1501.00 L1613.75,1500.88 L1616.50,1500.88 L1616.50,1500.75 L1619.25,1500.75 L1619.25,1500.62 L1622.00,1500.62 L1622.00,1500.50 L1624.67,1500.50 L1624.67,1500.17 L1627.33,1500.17 L1627.33,1499.83 L1630.00,1499.83 L1630.00,1499.50 L1633.33,1499.50 L1633.33,1499.17 L1636.67,1499.17 L1636.67,1498.83 L1640.00,1498.83 L1640.00,1498.50 L1649.00,1498.50 L1652.00,1498.50 L1652.00,1495.50 L1655.00,1495.50 L1655.00,1492.50 L1666.00,1492.50 L1670.00,1492.50 L1670.00,1486.50 L1674.00,1486.50 L1674.00,1483.50 L1676.75,1483.50 L1676.75,1483.12 L1679.50,1483.12 L1679.50,1482.75 L1682.25,1482.75 L1682.25,1482.38 L1685.00,1482.38 L1685.00,1482.00 L1688.00,1482.00 L1688.00,1481.88 L1691.00,1481.88 L1691.00,1481.75 L1694.00,1481.75 L1694.00,1481.62 L1697.00,1481.62 L1697.00,1481.50 L1699.67,1481.50 L1699.67,1481.00 L1702.33,1481.00 L1702.33,1480.50 L1705.00,1480.50 L1705.00,1480.00 L1707.50,1480.00 L1707.50,1477.25 L1710.00,1477.25 L1710.00,1474.50 L1722.00,1474.50 L1725.00,1474.50 L1725.00,1471.50 L1743.00,1471.50 L1746.50,1471.50 L1746.50,1470.50 L1750.00,1470.50 L1750.00,1469.50 L1753.33,1469.50 L1753.33,1468.83 L1756.67,1468.83 L1756.67,1468.17 L1760.00,1468.17 L1760.00,1467.50 L1762.50,1467.50 L1762.50,1466.25 L1765.00,1466.25 L1765.00,1465.00 L1768.50,1465.00 L1768.50,1463.75 L1772.00,1463.75 L1772.00,1462.50 L1775.05,1462.50 L1775.05,1462.46 L1778.10,1462.46 L1778.10,1462.42 L1781.15,1462.42 L1781.15,1462.38 L1784.20,1462.38 L1784.20,1462.34 L1787.25,1462.34 L1787.25,1462.30 L1790.30,1462.30 L1790.30,1462.26 L1793.35,1462.26 L1793.35,1462.22 L1796.40,1462.22 L1796.40,1462.18 L1799.45,1462.18 L1799.45,1462.14 L1802.50,1462.14 L1802.50,1462.10 L1803.60,1462.10 L1803.60,1460.60 L1806.57,1460.60 L1806.57,1460.50 L1809.53,1460.50 L1809.53,1460.40 L1812.50,1460.40 L1812.50,1460.30 L1815.47,1460.30 L1815.47,1460.20 L1818.43,1460.20 L1818.43,1460.10 L1821.40,1460.10 L1821.40,1460.00 L1822.40,1460.00 L1822.40,1459.00 L1825.24,1459.00 L1825.24,1458.93 L1828.09,1458.93 L1828.09,1458.86 L1830.93,1458.86 L1830.93,1458.79 L1833.77,1458.79 L1833.77,1458.71 L1836.61,1458.71 L1836.61,1458.64 L1839.46,1458.64 L1839.46,1458.57 L1842.30,1458.57 L1842.30,1458.50 L1843.30,1458.50 L1843.30,1457.40 L1846.44,1457.40 L1846.44,1457.33 L1849.59,1457.33 L1849.59,1457.26 L1852.73,1457.26 L1852.73,1457.19 L1855.87,1457.19 L1855.87,1457.11 L1859.01,1457.11 L1859.01,1457.04 L1862.16,1457.04 L1862.16,1456.97 L1865.30,1456.97 L1865.30,1456.90 L1866.30,1456.90 L1866.30,1456.10 L1869.30,1456.10 L1869.30,1456.11 L1872.31,1456.11 L1872.31,1456.12 L1875.31,1456.12 L1875.31,1456.12 L1878.31,1456.12 L1878.31,1456.13 L1881.31,1456.13 L1881.31,1456.14 L1884.32,1456.14 L1884.32,1456.15 L1887.32,1456.15 L1887.32,1456.15 L1890.32,1456.15 L1890.32,1456.16 L1893.32,1456.16 L1893.32,1456.17 L1896.33,1456.17 L1896.33,1456.18 L1899.33,1456.18 L1899.33,1456.18 L1902.33,1456.18 L1902.33,1456.19 L1905.33,1456.19 L1905.33,1456.20 L1908.34,1456.20 L1908.34,1456.21 L1911.34,1456.21 L1911.34,1456.22 L1914.34,1456.22 L1914.34,1456.22 L1917.34,1456.22 L1917.34,1456.23 L1920.35,1456.23 L1920.35,1456.24 L1923.35,1456.24 L1923.35,1456.25 L1926.35,1456.25 L1926.35,1456.25 L1929.35,1456.25 L1929.35,1456.26 L1932.36,1456.26 L1932.36,1456.27 L1935.36,1456.27 L1935.36,1456.28 L1938.36,1456.28 L1938.36,1456.28 L1941.36,1456.28 L1941.36,1456.29 L1944.37,1456.29 L1944.37,1456.30 L1947.37,1456.30 L1947.37,1456.31 L1950.37,1456.31 L1950.37,1456.32 L1953.37,1456.32 L1953.37,1456.32 L1956.38,1456.32 L1956.38,1456.33 L1959.38,1456.33 L1959.38,1456.34 L1962.38,1456.34 L1962.38,1456.35 L1965.38,1456.35 L1965.38,1456.35 L1968.39,1456.35 L1968.39,1456.36 L1971.39,1456.36 L1971.39,1456.37 L1974.39,1456.37 L1974.39,1456.38 L1977.39,1456.38 L1977.39,1456.38 L1980.40,1456.38 L1980.40,1456.39 L1983.40,1456.39 L1983.40,1456.40" fill="none" stroke-width="3" stroke-linejoin="miter" stroke-miterlimit="2"/>
<path d="M1611.00,1501.00 L1613.92,1501.00 L1613.92,1500.81 L1616.85,1500.81 L1616.85,1500.62 L1619.77,1500.62 L1619.77,1500.42 L1622.69,1500.42 L1622.69,1500.23 L1625.62,1500.23 L1625.62,1500.04 L1628.54,1500.04 L1628.54,1499.85 L1631.46,1499.85 L1631.46,1499.65 L1634.38,1499.65 L1634.38,1499.46 L1637.31,1499.46 L1637.31,1499.27 L1640.23,1499.27 L1640.23,1499.08 L1643.15,1499.08 L1643.15,1498.88 L1646.08,1498.88 L1646.08,1498.69 L1649.00,1498.69 L1649.00,1498.50 L1652.50,1498.50 L1652.50,1496.75 L1656.00,1496.75 L1656.00,1495.00 L1659.00,1495.00 L1659.00,1494.33 L1662.00,1494.33 L1662.00,1493.67 L1665.00,1493.67 L1665.00,1493.00 L1667.50,1493.00 L1667.50,1493.25 L1670.00,1493.25 L1670.00,1493.50 L1673.00,1493.50 L1673.00,1490.25 L1676.00,1490.25 L1676.00,1487.00 L1679.50,1487.00 L1679.50,1487.25 L1683.00,1487.25 L1683.00,1487.50 L1686.00,1487.50 L1686.00,1487.00 L1689.00,1487.00 L1689.00,1486.50 L1692.00,1486.50 L1692.00,1486.00 L1695.00,1486.00 L1695.00,1485.50 L1698.33,1485.50 L1698.33,1484.33 L1701.67,1484.33 L1701.67,1483.17 L1705.00,1483.17 L1705.00,1482.00 L1707.50,1482.00 L1707.50,1481.75 L1710.00,1481.75 L1710.00,1481.50 L1713.50,1481.50 L1713.50,1481.25 L1717.00,1481.25 L1717.00,1481.00 L1720.00,1481.00 L1720.00,1480.50 L1723.00,1480.50 L1723.00,1480.00 L1726.00,1480.00 L1726.00,1478.75 L1729.00,1478.75 L1729.00,1477.50 L1732.17,1477.50 L1732.17,1477.33 L1735.33,1477.33 L1735.33,1477.17 L1738.50,1477.17 L1738.50,1477.00 L1740.75,1477.00 L1740.75,1475.50 L1743.00,1475.50 L1743.00,1474.00 L1745.50,1474.00 L1745.50,1472.50 L1748.00,1472.50 L1748.00,1471.00 L1750.67,1471.00 L1750.67,1470.33 L1753.33,1470.33 L1753.33,1469.67 L1756.00,1469.67 L1756.00,1469.00 L1764.00,1469.00 L1767.00,1469.00 L1767.00,1468.75 L1770.00,1468.75 L1770.00,1468.50 L1773.75,1468.50 L1773.75,1468.25 L1777.50,1468.25 L1777.50,1468.00 L1779.75,1468.00 L1779.75,1467.25 L1782.00,1467.25 L1782.00,1466.50 L1794.00,1466.50 L1796.95,1466.50 L1796.95,1466.25 L1799.90,1466.25 L1799.90,1466.00 L1800.45,1466.00 L1800.45,1465.48 L1804.11,1465.48 L1804.11,1465.12 L1807.77,1465.12 L1807.77,1464.75 L1810.49,1464.75 L1810.49,1464.44 L1813.21,1464.44 L1813.21,1464.12 L1815.93,1464.12 L1815.93,1463.81 L1818.65,1463.81 L1818.65,1463.50 L1821.36,1463.50 L1821.36,1463.18 L1823.46,1463.18 L1823.46,1462.14 L1837.05,1462.14 L1839.14,1462.14 L1839.14,1460.05 L1842.27,1460.05 L1842.27,1459.94 L1845.41,1459.94 L1845.41,1459.84 L1848.55,1459.84 L1848.55,1459.73 L1851.68,1459.73 L1851.68,1459.63 L1854.82,1459.63 L1854.82,1459.52 L1857.54,1459.52 L1857.54,1459.21 L1860.26,1459.21 L1860.26,1458.90 L1862.97,1458.90 L1862.97,1458.58 L1865.69,1458.58 L1865.69,1458.27 L1868.41,1458.27 L1868.41,1457.96 L1880.96,1457.96 L1883.67,1457.96 L1883.67,1457.85 L1886.39,1457.85 L1886.39,1457.75 L1889.11,1457.75 L1889.11,1457.64 L1891.83,1457.64 L1891.83,1457.54 L1894.55,1457.54 L1894.55,1457.43 L1897.16,1457.43 L1897.16,1457.17 L1899.78,1457.17 L1899.78,1456.91 L1902.49,1456.91 L1902.49,1456.39 L1905.21,1456.39 L1905.21,1455.87 L1907.93,1455.87 L1907.93,1455.34 L1910.65,1455.34 L1910.65,1454.82 L1913.37,1454.82 L1913.37,1454.30 L1915.46,1454.30 L1915.46,1453.25 L1918.59,1453.25 L1918.59,1453.07 L1921.73,1453.07 L1921.73,1452.89 L1924.87,1452.89 L1924.87,1452.70 L1928.00,1452.70 L1928.00,1452.52 L1946.82,1452.52 L1961.46,1452.52 L1980.28,1452.52" fill="none" stroke-width="3" stroke-dasharray="18 14" stroke-linejoin="miter" stroke-miterlimit="2"/>
</g>
</svg>
</body></html>
